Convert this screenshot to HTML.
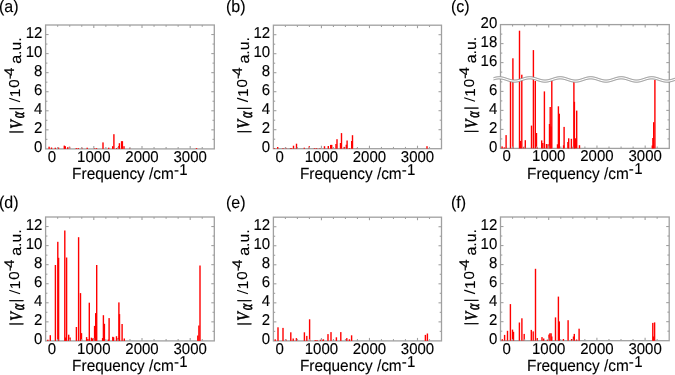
<!DOCTYPE html>
<html><head><meta charset="utf-8"><style>
html,body{margin:0;padding:0;background:#fff;overflow:hidden;}
svg{display:block;font-family:"Liberation Sans",sans-serif;filter:blur(0.35px);text-rendering:geometricPrecision;}
text{stroke:#000;stroke-width:0.12px;}
.s5{stroke-width:0.5px;}
.s35{stroke-width:0.35px;}
</style></head><body>
<svg width="675" height="375" viewBox="0 0 675 375">
<rect width="675" height="375" fill="#fff"/>
<rect x="45.60" y="25.00" width="168.70" height="123.90" fill="none" stroke="#a0a0a0" stroke-width="1.3"/>
<rect x="48.40" y="146.70" width="1.4" height="2.20" fill="#ff0000"/>
<rect x="50.80" y="147.50" width="1.4" height="1.40" fill="#ff0000"/>
<rect x="54.60" y="147.70" width="1.4" height="1.20" fill="#ff0000"/>
<rect x="57.80" y="147.50" width="1.4" height="1.40" fill="#ff0000"/>
<rect x="63.60" y="145.60" width="1.4" height="3.30" fill="#ff0000"/>
<rect x="64.60" y="146.20" width="1.4" height="2.70" fill="#ff0000"/>
<rect x="67.00" y="147.20" width="1.4" height="1.70" fill="#ff0000"/>
<rect x="68.80" y="146.70" width="1.4" height="2.20" fill="#ff0000"/>
<rect x="75.60" y="148.10" width="1.4" height="0.80" fill="#ff0000"/>
<rect x="77.60" y="148.10" width="1.4" height="0.80" fill="#ff0000"/>
<rect x="81.10" y="147.70" width="1.4" height="1.20" fill="#ff0000"/>
<rect x="86.50" y="147.70" width="1.4" height="1.20" fill="#ff0000"/>
<rect x="93.80" y="148.20" width="1.4" height="0.70" fill="#ff0000"/>
<rect x="95.80" y="148.10" width="1.4" height="0.80" fill="#ff0000"/>
<rect x="102.30" y="142.40" width="1.4" height="6.50" fill="#ff0000"/>
<rect x="108.00" y="147.70" width="1.4" height="1.20" fill="#ff0000"/>
<rect x="112.00" y="146.20" width="1.4" height="2.70" fill="#ff0000"/>
<rect x="113.20" y="134.20" width="1.4" height="14.70" fill="#ff0000"/>
<rect x="116.00" y="148.00" width="1.4" height="0.90" fill="#ff0000"/>
<rect x="118.00" y="146.20" width="1.4" height="2.70" fill="#ff0000"/>
<rect x="118.70" y="143.20" width="1.4" height="5.70" fill="#ff0000"/>
<rect x="120.90" y="141.20" width="1.4" height="7.70" fill="#ff0000"/>
<rect x="121.70" y="141.20" width="1.4" height="7.70" fill="#ff0000"/>
<rect x="123.30" y="146.20" width="1.4" height="2.70" fill="#ff0000"/>
<rect x="129.00" y="148.20" width="1.4" height="0.70" fill="#ff0000"/>
<rect x="195.80" y="148.10" width="1.4" height="0.80" fill="#ff0000"/>
<line x1="57.65" y1="148.90" x2="57.65" y2="147.10" stroke="#a0a0a0" stroke-width="1.1"/>
<line x1="57.65" y1="25.00" x2="57.65" y2="26.80" stroke="#a0a0a0" stroke-width="1.1"/>
<line x1="69.70" y1="148.90" x2="69.70" y2="147.10" stroke="#a0a0a0" stroke-width="1.1"/>
<line x1="69.70" y1="25.00" x2="69.70" y2="26.80" stroke="#a0a0a0" stroke-width="1.1"/>
<line x1="81.75" y1="148.90" x2="81.75" y2="147.10" stroke="#a0a0a0" stroke-width="1.1"/>
<line x1="81.75" y1="25.00" x2="81.75" y2="26.80" stroke="#a0a0a0" stroke-width="1.1"/>
<line x1="93.80" y1="148.90" x2="93.80" y2="145.90" stroke="#a0a0a0" stroke-width="1.1"/>
<line x1="93.80" y1="25.00" x2="93.80" y2="28.00" stroke="#a0a0a0" stroke-width="1.1"/>
<line x1="105.85" y1="148.90" x2="105.85" y2="147.10" stroke="#a0a0a0" stroke-width="1.1"/>
<line x1="105.85" y1="25.00" x2="105.85" y2="26.80" stroke="#a0a0a0" stroke-width="1.1"/>
<line x1="117.90" y1="148.90" x2="117.90" y2="147.10" stroke="#a0a0a0" stroke-width="1.1"/>
<line x1="117.90" y1="25.00" x2="117.90" y2="26.80" stroke="#a0a0a0" stroke-width="1.1"/>
<line x1="129.95" y1="148.90" x2="129.95" y2="147.10" stroke="#a0a0a0" stroke-width="1.1"/>
<line x1="129.95" y1="25.00" x2="129.95" y2="26.80" stroke="#a0a0a0" stroke-width="1.1"/>
<line x1="142.00" y1="148.90" x2="142.00" y2="145.90" stroke="#a0a0a0" stroke-width="1.1"/>
<line x1="142.00" y1="25.00" x2="142.00" y2="28.00" stroke="#a0a0a0" stroke-width="1.1"/>
<line x1="154.05" y1="148.90" x2="154.05" y2="147.10" stroke="#a0a0a0" stroke-width="1.1"/>
<line x1="154.05" y1="25.00" x2="154.05" y2="26.80" stroke="#a0a0a0" stroke-width="1.1"/>
<line x1="166.10" y1="148.90" x2="166.10" y2="147.10" stroke="#a0a0a0" stroke-width="1.1"/>
<line x1="166.10" y1="25.00" x2="166.10" y2="26.80" stroke="#a0a0a0" stroke-width="1.1"/>
<line x1="178.15" y1="148.90" x2="178.15" y2="147.10" stroke="#a0a0a0" stroke-width="1.1"/>
<line x1="178.15" y1="25.00" x2="178.15" y2="26.80" stroke="#a0a0a0" stroke-width="1.1"/>
<line x1="190.20" y1="148.90" x2="190.20" y2="145.90" stroke="#a0a0a0" stroke-width="1.1"/>
<line x1="190.20" y1="25.00" x2="190.20" y2="28.00" stroke="#a0a0a0" stroke-width="1.1"/>
<line x1="202.25" y1="148.90" x2="202.25" y2="147.10" stroke="#a0a0a0" stroke-width="1.1"/>
<line x1="202.25" y1="25.00" x2="202.25" y2="26.80" stroke="#a0a0a0" stroke-width="1.1"/>
<line x1="45.60" y1="139.37" x2="47.40" y2="139.37" stroke="#a0a0a0" stroke-width="1.1"/>
<line x1="214.30" y1="139.37" x2="212.50" y2="139.37" stroke="#a0a0a0" stroke-width="1.1"/>
<line x1="45.60" y1="129.84" x2="48.60" y2="129.84" stroke="#a0a0a0" stroke-width="1.1"/>
<line x1="214.30" y1="129.84" x2="211.30" y2="129.84" stroke="#a0a0a0" stroke-width="1.1"/>
<line x1="45.60" y1="120.31" x2="47.40" y2="120.31" stroke="#a0a0a0" stroke-width="1.1"/>
<line x1="214.30" y1="120.31" x2="212.50" y2="120.31" stroke="#a0a0a0" stroke-width="1.1"/>
<line x1="45.60" y1="110.78" x2="48.60" y2="110.78" stroke="#a0a0a0" stroke-width="1.1"/>
<line x1="214.30" y1="110.78" x2="211.30" y2="110.78" stroke="#a0a0a0" stroke-width="1.1"/>
<line x1="45.60" y1="101.25" x2="47.40" y2="101.25" stroke="#a0a0a0" stroke-width="1.1"/>
<line x1="214.30" y1="101.25" x2="212.50" y2="101.25" stroke="#a0a0a0" stroke-width="1.1"/>
<line x1="45.60" y1="91.72" x2="48.60" y2="91.72" stroke="#a0a0a0" stroke-width="1.1"/>
<line x1="214.30" y1="91.72" x2="211.30" y2="91.72" stroke="#a0a0a0" stroke-width="1.1"/>
<line x1="45.60" y1="82.18" x2="47.40" y2="82.18" stroke="#a0a0a0" stroke-width="1.1"/>
<line x1="214.30" y1="82.18" x2="212.50" y2="82.18" stroke="#a0a0a0" stroke-width="1.1"/>
<line x1="45.60" y1="72.65" x2="48.60" y2="72.65" stroke="#a0a0a0" stroke-width="1.1"/>
<line x1="214.30" y1="72.65" x2="211.30" y2="72.65" stroke="#a0a0a0" stroke-width="1.1"/>
<line x1="45.60" y1="63.12" x2="47.40" y2="63.12" stroke="#a0a0a0" stroke-width="1.1"/>
<line x1="214.30" y1="63.12" x2="212.50" y2="63.12" stroke="#a0a0a0" stroke-width="1.1"/>
<line x1="45.60" y1="53.59" x2="48.60" y2="53.59" stroke="#a0a0a0" stroke-width="1.1"/>
<line x1="214.30" y1="53.59" x2="211.30" y2="53.59" stroke="#a0a0a0" stroke-width="1.1"/>
<line x1="45.60" y1="44.06" x2="47.40" y2="44.06" stroke="#a0a0a0" stroke-width="1.1"/>
<line x1="214.30" y1="44.06" x2="212.50" y2="44.06" stroke="#a0a0a0" stroke-width="1.1"/>
<line x1="45.60" y1="34.53" x2="48.60" y2="34.53" stroke="#a0a0a0" stroke-width="1.1"/>
<line x1="214.30" y1="34.53" x2="211.30" y2="34.53" stroke="#a0a0a0" stroke-width="1.1"/>
<text transform="translate(42.40,152.00) scale(1,1.05)" font-size="15.0" text-anchor="end" >0</text>
<text transform="translate(42.40,132.94) scale(1,1.05)" font-size="15.0" text-anchor="end" >2</text>
<text transform="translate(42.40,113.88) scale(1,1.05)" font-size="15.0" text-anchor="end" >4</text>
<text transform="translate(42.40,94.82) scale(1,1.05)" font-size="15.0" text-anchor="end" >6</text>
<text transform="translate(42.40,75.75) scale(1,1.05)" font-size="15.0" text-anchor="end" >8</text>
<text transform="translate(42.40,56.69) scale(1,1.05)" font-size="15.0" text-anchor="end" >10</text>
<text transform="translate(42.40,37.63) scale(1,1.05)" font-size="15.0" text-anchor="end" >12</text>
<text transform="translate(93.80,161.90) scale(1,1.05)" font-size="15.0" text-anchor="middle" >1000</text>
<text transform="translate(142.00,161.90) scale(1,1.05)" font-size="15.0" text-anchor="middle" >2000</text>
<text transform="translate(190.20,161.90) scale(1,1.05)" font-size="15.0" text-anchor="middle" >3000</text>
<text transform="translate(51.80,161.90) scale(1,1.05)" font-size="15.0" text-anchor="middle" >0</text>
<text transform="translate(72.10,179.20) scale(1,1.05)" font-size="15.4" text-anchor="start" >Frequency /cm<tspan dy="-4.1" font-size="15">-<tspan dx="0.4">1</tspan></tspan></text>
<text transform="translate(-1.00,12.00) scale(1,1.05)" font-size="16" text-anchor="start" >(a)</text>
<text transform="translate(20.30,133.40) scale(1,1.05) rotate(-90)" font-size="15" font-family="Liberation Serif" class="s5">|</text>
<text transform="translate(21.67,128.63) scale(1,1.05) rotate(-90) scale(0.887,1.16)" font-size="15" font-family="Liberation Serif" font-style="italic" class="s5">V</text>
<text transform="translate(23.74,118.27) scale(1,1.05) rotate(-90) scale(0.783,1.22)" font-size="15" font-family="Liberation Serif" font-style="italic" class="s5">α</text>
<text transform="translate(20.30,110.30) scale(1,1.05) rotate(-90)" font-size="15" font-family="Liberation Serif" class="s5">|</text>
<line x1="9.30" y1="98.30" x2="20.10" y2="101.80" stroke="#000" stroke-width="1.15"/>
<text transform="translate(19.80,97.30) scale(1,1.05) rotate(-90)" font-size="14.4" font-family="Liberation Sans">1</text>
<text transform="translate(19.40,87.70) scale(1,1.05) rotate(-90)" font-size="14.4" font-family="Liberation Sans">0</text>
<text transform="translate(13.80,79.30) scale(1,1.05) rotate(-90)" font-size="14" font-family="Liberation Sans">-</text>
<text transform="translate(13.80,75.66) scale(1,1.05) rotate(-90)" font-size="14" font-family="Liberation Sans">4</text>
<text transform="translate(20.80,63.80) scale(1,1.05) rotate(-90)" font-size="15.2" font-family="Liberation Sans">a.u.</text>
<rect x="273.40" y="25.20" width="168.10" height="123.50" fill="none" stroke="#a0a0a0" stroke-width="1.3"/>
<rect x="273.60" y="148.10" width="1.4" height="0.60" fill="#ff0000"/>
<rect x="277.00" y="147.00" width="1.4" height="1.70" fill="#ff0000"/>
<rect x="282.30" y="148.10" width="1.4" height="0.60" fill="#ff0000"/>
<rect x="285.00" y="147.70" width="1.4" height="1.00" fill="#ff0000"/>
<rect x="289.80" y="148.10" width="1.4" height="0.60" fill="#ff0000"/>
<rect x="290.80" y="148.10" width="1.4" height="0.60" fill="#ff0000"/>
<rect x="292.80" y="145.70" width="1.4" height="3.00" fill="#ff0000"/>
<rect x="295.80" y="143.70" width="1.4" height="5.00" fill="#ff0000"/>
<rect x="296.60" y="147.20" width="1.4" height="1.50" fill="#ff0000"/>
<rect x="303.60" y="147.70" width="1.4" height="1.00" fill="#ff0000"/>
<rect x="308.60" y="146.20" width="1.4" height="2.50" fill="#ff0000"/>
<rect x="313.80" y="148.10" width="1.4" height="0.60" fill="#ff0000"/>
<rect x="315.80" y="148.10" width="1.4" height="0.60" fill="#ff0000"/>
<rect x="319.30" y="148.20" width="1.4" height="0.50" fill="#ff0000"/>
<rect x="323.80" y="146.20" width="1.4" height="2.50" fill="#ff0000"/>
<rect x="327.60" y="146.00" width="1.4" height="2.70" fill="#ff0000"/>
<rect x="330.00" y="144.90" width="1.4" height="3.80" fill="#ff0000"/>
<rect x="331.00" y="144.90" width="1.4" height="3.80" fill="#ff0000"/>
<rect x="335.30" y="144.00" width="1.4" height="4.70" fill="#ff0000"/>
<rect x="336.30" y="139.20" width="1.4" height="9.50" fill="#ff0000"/>
<rect x="339.80" y="143.00" width="1.4" height="5.70" fill="#ff0000"/>
<rect x="340.80" y="133.10" width="1.4" height="15.60" fill="#ff0000"/>
<rect x="343.50" y="146.90" width="1.4" height="1.80" fill="#ff0000"/>
<rect x="345.60" y="144.70" width="1.4" height="4.00" fill="#ff0000"/>
<rect x="346.40" y="140.50" width="1.4" height="8.20" fill="#ff0000"/>
<rect x="348.80" y="148.10" width="1.4" height="0.60" fill="#ff0000"/>
<rect x="351.00" y="141.00" width="1.4" height="7.70" fill="#ff0000"/>
<rect x="351.80" y="135.20" width="1.4" height="13.50" fill="#ff0000"/>
<rect x="356.60" y="148.20" width="1.4" height="0.50" fill="#ff0000"/>
<rect x="426.30" y="146.20" width="1.4" height="2.50" fill="#ff0000"/>
<line x1="285.41" y1="148.70" x2="285.41" y2="146.90" stroke="#a0a0a0" stroke-width="1.1"/>
<line x1="285.41" y1="25.20" x2="285.41" y2="27.00" stroke="#a0a0a0" stroke-width="1.1"/>
<line x1="297.41" y1="148.70" x2="297.41" y2="146.90" stroke="#a0a0a0" stroke-width="1.1"/>
<line x1="297.41" y1="25.20" x2="297.41" y2="27.00" stroke="#a0a0a0" stroke-width="1.1"/>
<line x1="309.42" y1="148.70" x2="309.42" y2="146.90" stroke="#a0a0a0" stroke-width="1.1"/>
<line x1="309.42" y1="25.20" x2="309.42" y2="27.00" stroke="#a0a0a0" stroke-width="1.1"/>
<line x1="321.43" y1="148.70" x2="321.43" y2="145.70" stroke="#a0a0a0" stroke-width="1.1"/>
<line x1="321.43" y1="25.20" x2="321.43" y2="28.20" stroke="#a0a0a0" stroke-width="1.1"/>
<line x1="333.44" y1="148.70" x2="333.44" y2="146.90" stroke="#a0a0a0" stroke-width="1.1"/>
<line x1="333.44" y1="25.20" x2="333.44" y2="27.00" stroke="#a0a0a0" stroke-width="1.1"/>
<line x1="345.44" y1="148.70" x2="345.44" y2="146.90" stroke="#a0a0a0" stroke-width="1.1"/>
<line x1="345.44" y1="25.20" x2="345.44" y2="27.00" stroke="#a0a0a0" stroke-width="1.1"/>
<line x1="357.45" y1="148.70" x2="357.45" y2="146.90" stroke="#a0a0a0" stroke-width="1.1"/>
<line x1="357.45" y1="25.20" x2="357.45" y2="27.00" stroke="#a0a0a0" stroke-width="1.1"/>
<line x1="369.46" y1="148.70" x2="369.46" y2="145.70" stroke="#a0a0a0" stroke-width="1.1"/>
<line x1="369.46" y1="25.20" x2="369.46" y2="28.20" stroke="#a0a0a0" stroke-width="1.1"/>
<line x1="381.46" y1="148.70" x2="381.46" y2="146.90" stroke="#a0a0a0" stroke-width="1.1"/>
<line x1="381.46" y1="25.20" x2="381.46" y2="27.00" stroke="#a0a0a0" stroke-width="1.1"/>
<line x1="393.47" y1="148.70" x2="393.47" y2="146.90" stroke="#a0a0a0" stroke-width="1.1"/>
<line x1="393.47" y1="25.20" x2="393.47" y2="27.00" stroke="#a0a0a0" stroke-width="1.1"/>
<line x1="405.48" y1="148.70" x2="405.48" y2="146.90" stroke="#a0a0a0" stroke-width="1.1"/>
<line x1="405.48" y1="25.20" x2="405.48" y2="27.00" stroke="#a0a0a0" stroke-width="1.1"/>
<line x1="417.49" y1="148.70" x2="417.49" y2="145.70" stroke="#a0a0a0" stroke-width="1.1"/>
<line x1="417.49" y1="25.20" x2="417.49" y2="28.20" stroke="#a0a0a0" stroke-width="1.1"/>
<line x1="429.49" y1="148.70" x2="429.49" y2="146.90" stroke="#a0a0a0" stroke-width="1.1"/>
<line x1="429.49" y1="25.20" x2="429.49" y2="27.00" stroke="#a0a0a0" stroke-width="1.1"/>
<line x1="273.40" y1="139.20" x2="275.20" y2="139.20" stroke="#a0a0a0" stroke-width="1.1"/>
<line x1="441.50" y1="139.20" x2="439.70" y2="139.20" stroke="#a0a0a0" stroke-width="1.1"/>
<line x1="273.40" y1="129.70" x2="276.40" y2="129.70" stroke="#a0a0a0" stroke-width="1.1"/>
<line x1="441.50" y1="129.70" x2="438.50" y2="129.70" stroke="#a0a0a0" stroke-width="1.1"/>
<line x1="273.40" y1="120.20" x2="275.20" y2="120.20" stroke="#a0a0a0" stroke-width="1.1"/>
<line x1="441.50" y1="120.20" x2="439.70" y2="120.20" stroke="#a0a0a0" stroke-width="1.1"/>
<line x1="273.40" y1="110.70" x2="276.40" y2="110.70" stroke="#a0a0a0" stroke-width="1.1"/>
<line x1="441.50" y1="110.70" x2="438.50" y2="110.70" stroke="#a0a0a0" stroke-width="1.1"/>
<line x1="273.40" y1="101.20" x2="275.20" y2="101.20" stroke="#a0a0a0" stroke-width="1.1"/>
<line x1="441.50" y1="101.20" x2="439.70" y2="101.20" stroke="#a0a0a0" stroke-width="1.1"/>
<line x1="273.40" y1="91.70" x2="276.40" y2="91.70" stroke="#a0a0a0" stroke-width="1.1"/>
<line x1="441.50" y1="91.70" x2="438.50" y2="91.70" stroke="#a0a0a0" stroke-width="1.1"/>
<line x1="273.40" y1="82.20" x2="275.20" y2="82.20" stroke="#a0a0a0" stroke-width="1.1"/>
<line x1="441.50" y1="82.20" x2="439.70" y2="82.20" stroke="#a0a0a0" stroke-width="1.1"/>
<line x1="273.40" y1="72.70" x2="276.40" y2="72.70" stroke="#a0a0a0" stroke-width="1.1"/>
<line x1="441.50" y1="72.70" x2="438.50" y2="72.70" stroke="#a0a0a0" stroke-width="1.1"/>
<line x1="273.40" y1="63.20" x2="275.20" y2="63.20" stroke="#a0a0a0" stroke-width="1.1"/>
<line x1="441.50" y1="63.20" x2="439.70" y2="63.20" stroke="#a0a0a0" stroke-width="1.1"/>
<line x1="273.40" y1="53.70" x2="276.40" y2="53.70" stroke="#a0a0a0" stroke-width="1.1"/>
<line x1="441.50" y1="53.70" x2="438.50" y2="53.70" stroke="#a0a0a0" stroke-width="1.1"/>
<line x1="273.40" y1="44.20" x2="275.20" y2="44.20" stroke="#a0a0a0" stroke-width="1.1"/>
<line x1="441.50" y1="44.20" x2="439.70" y2="44.20" stroke="#a0a0a0" stroke-width="1.1"/>
<line x1="273.40" y1="34.70" x2="276.40" y2="34.70" stroke="#a0a0a0" stroke-width="1.1"/>
<line x1="441.50" y1="34.70" x2="438.50" y2="34.70" stroke="#a0a0a0" stroke-width="1.1"/>
<text transform="translate(270.20,151.80) scale(1,1.05)" font-size="15.0" text-anchor="end" >0</text>
<text transform="translate(270.20,132.80) scale(1,1.05)" font-size="15.0" text-anchor="end" >2</text>
<text transform="translate(270.20,113.80) scale(1,1.05)" font-size="15.0" text-anchor="end" >4</text>
<text transform="translate(270.20,94.80) scale(1,1.05)" font-size="15.0" text-anchor="end" >6</text>
<text transform="translate(270.20,75.80) scale(1,1.05)" font-size="15.0" text-anchor="end" >8</text>
<text transform="translate(270.20,56.80) scale(1,1.05)" font-size="15.0" text-anchor="end" >10</text>
<text transform="translate(270.20,37.80) scale(1,1.05)" font-size="15.0" text-anchor="end" >12</text>
<text transform="translate(321.43,161.70) scale(1,1.05)" font-size="15.0" text-anchor="middle" >1000</text>
<text transform="translate(369.46,161.70) scale(1,1.05)" font-size="15.0" text-anchor="middle" >2000</text>
<text transform="translate(417.49,161.70) scale(1,1.05)" font-size="15.0" text-anchor="middle" >3000</text>
<text transform="translate(279.60,161.70) scale(1,1.05)" font-size="15.0" text-anchor="middle" >0</text>
<text transform="translate(299.90,179.00) scale(1,1.05)" font-size="15.4" text-anchor="start" >Frequency /cm<tspan dy="-4.1" font-size="15">-<tspan dx="0.4">1</tspan></tspan></text>
<text transform="translate(226.00,12.00) scale(1,1.05)" font-size="16" text-anchor="start" >(b)</text>
<text transform="translate(248.10,133.20) scale(1,1.05) rotate(-90)" font-size="15" font-family="Liberation Serif" class="s5">|</text>
<text transform="translate(249.47,128.43) scale(1,1.05) rotate(-90) scale(0.887,1.16)" font-size="15" font-family="Liberation Serif" font-style="italic" class="s5">V</text>
<text transform="translate(251.54,118.07) scale(1,1.05) rotate(-90) scale(0.783,1.22)" font-size="15" font-family="Liberation Serif" font-style="italic" class="s5">α</text>
<text transform="translate(248.10,110.10) scale(1,1.05) rotate(-90)" font-size="15" font-family="Liberation Serif" class="s5">|</text>
<line x1="237.10" y1="98.10" x2="247.90" y2="101.60" stroke="#000" stroke-width="1.15"/>
<text transform="translate(247.60,97.10) scale(1,1.05) rotate(-90)" font-size="14.4" font-family="Liberation Sans">1</text>
<text transform="translate(247.20,87.50) scale(1,1.05) rotate(-90)" font-size="14.4" font-family="Liberation Sans">0</text>
<text transform="translate(241.60,79.10) scale(1,1.05) rotate(-90)" font-size="14" font-family="Liberation Sans">-</text>
<text transform="translate(241.60,75.46) scale(1,1.05) rotate(-90)" font-size="14" font-family="Liberation Sans">4</text>
<text transform="translate(248.60,63.60) scale(1,1.05) rotate(-90)" font-size="15.2" font-family="Liberation Sans">a.u.</text>
<rect x="500.50" y="24.60" width="168.80" height="123.80" fill="none" stroke="#a0a0a0" stroke-width="1.3"/>
<rect x="501.40" y="146.40" width="1.4" height="2.00" fill="#ff0000"/>
<rect x="503.60" y="147.40" width="1.4" height="1.00" fill="#ff0000"/>
<rect x="505.40" y="135.10" width="1.4" height="13.30" fill="#ff0000"/>
<rect x="509.80" y="81.00" width="1.4" height="67.40" fill="#ff0000"/>
<rect x="512.20" y="58.30" width="1.4" height="90.10" fill="#ff0000"/>
<rect x="518.80" y="30.70" width="1.4" height="117.70" fill="#ff0000"/>
<rect x="519.80" y="140.90" width="1.4" height="7.50" fill="#ff0000"/>
<rect x="521.10" y="74.70" width="1.4" height="73.70" fill="#ff0000"/>
<rect x="523.30" y="146.80" width="1.4" height="1.60" fill="#ff0000"/>
<rect x="524.60" y="140.20" width="1.4" height="8.20" fill="#ff0000"/>
<rect x="530.80" y="125.60" width="1.4" height="22.80" fill="#ff0000"/>
<rect x="532.70" y="50.10" width="1.4" height="98.30" fill="#ff0000"/>
<rect x="534.60" y="81.00" width="1.4" height="67.40" fill="#ff0000"/>
<rect x="535.80" y="133.00" width="1.4" height="15.40" fill="#ff0000"/>
<rect x="536.60" y="147.50" width="1.4" height="0.90" fill="#ff0000"/>
<rect x="541.00" y="140.40" width="1.4" height="8.00" fill="#ff0000"/>
<rect x="542.10" y="143.00" width="1.4" height="5.40" fill="#ff0000"/>
<rect x="543.70" y="91.40" width="1.4" height="57.00" fill="#ff0000"/>
<rect x="545.80" y="144.00" width="1.4" height="4.40" fill="#ff0000"/>
<rect x="547.40" y="144.30" width="1.4" height="4.10" fill="#ff0000"/>
<rect x="548.80" y="124.00" width="1.4" height="24.40" fill="#ff0000"/>
<rect x="549.50" y="107.00" width="1.4" height="41.40" fill="#ff0000"/>
<rect x="550.30" y="126.50" width="1.4" height="21.90" fill="#ff0000"/>
<rect x="551.10" y="81.00" width="1.4" height="67.40" fill="#ff0000"/>
<rect x="556.80" y="144.30" width="1.4" height="4.10" fill="#ff0000"/>
<rect x="557.70" y="106.30" width="1.4" height="42.10" fill="#ff0000"/>
<rect x="558.60" y="113.70" width="1.4" height="34.70" fill="#ff0000"/>
<rect x="562.90" y="145.30" width="1.4" height="3.10" fill="#ff0000"/>
<rect x="563.40" y="126.90" width="1.4" height="21.50" fill="#ff0000"/>
<rect x="567.20" y="142.00" width="1.4" height="6.40" fill="#ff0000"/>
<rect x="568.00" y="138.30" width="1.4" height="10.10" fill="#ff0000"/>
<rect x="570.70" y="138.80" width="1.4" height="9.60" fill="#ff0000"/>
<rect x="571.40" y="147.30" width="1.4" height="1.10" fill="#ff0000"/>
<rect x="573.20" y="81.00" width="1.4" height="67.40" fill="#ff0000"/>
<rect x="573.70" y="101.80" width="1.4" height="46.60" fill="#ff0000"/>
<rect x="574.60" y="138.30" width="1.4" height="10.10" fill="#ff0000"/>
<rect x="576.00" y="110.60" width="1.4" height="37.80" fill="#ff0000"/>
<rect x="578.80" y="145.20" width="1.4" height="3.20" fill="#ff0000"/>
<rect x="651.60" y="145.50" width="1.4" height="2.90" fill="#ff0000"/>
<rect x="652.20" y="138.00" width="1.4" height="10.40" fill="#ff0000"/>
<rect x="653.00" y="122.20" width="1.4" height="26.20" fill="#ff0000"/>
<rect x="654.20" y="80.00" width="1.4" height="68.40" fill="#ff0000"/>
<line x1="512.56" y1="148.40" x2="512.56" y2="146.60" stroke="#a0a0a0" stroke-width="1.1"/>
<line x1="512.56" y1="24.60" x2="512.56" y2="26.40" stroke="#a0a0a0" stroke-width="1.1"/>
<line x1="524.61" y1="148.40" x2="524.61" y2="146.60" stroke="#a0a0a0" stroke-width="1.1"/>
<line x1="524.61" y1="24.60" x2="524.61" y2="26.40" stroke="#a0a0a0" stroke-width="1.1"/>
<line x1="536.67" y1="148.40" x2="536.67" y2="146.60" stroke="#a0a0a0" stroke-width="1.1"/>
<line x1="536.67" y1="24.60" x2="536.67" y2="26.40" stroke="#a0a0a0" stroke-width="1.1"/>
<line x1="548.73" y1="148.40" x2="548.73" y2="145.40" stroke="#a0a0a0" stroke-width="1.1"/>
<line x1="548.73" y1="24.60" x2="548.73" y2="27.60" stroke="#a0a0a0" stroke-width="1.1"/>
<line x1="560.79" y1="148.40" x2="560.79" y2="146.60" stroke="#a0a0a0" stroke-width="1.1"/>
<line x1="560.79" y1="24.60" x2="560.79" y2="26.40" stroke="#a0a0a0" stroke-width="1.1"/>
<line x1="572.84" y1="148.40" x2="572.84" y2="146.60" stroke="#a0a0a0" stroke-width="1.1"/>
<line x1="572.84" y1="24.60" x2="572.84" y2="26.40" stroke="#a0a0a0" stroke-width="1.1"/>
<line x1="584.90" y1="148.40" x2="584.90" y2="146.60" stroke="#a0a0a0" stroke-width="1.1"/>
<line x1="584.90" y1="24.60" x2="584.90" y2="26.40" stroke="#a0a0a0" stroke-width="1.1"/>
<line x1="596.96" y1="148.40" x2="596.96" y2="145.40" stroke="#a0a0a0" stroke-width="1.1"/>
<line x1="596.96" y1="24.60" x2="596.96" y2="27.60" stroke="#a0a0a0" stroke-width="1.1"/>
<line x1="609.01" y1="148.40" x2="609.01" y2="146.60" stroke="#a0a0a0" stroke-width="1.1"/>
<line x1="609.01" y1="24.60" x2="609.01" y2="26.40" stroke="#a0a0a0" stroke-width="1.1"/>
<line x1="621.07" y1="148.40" x2="621.07" y2="146.60" stroke="#a0a0a0" stroke-width="1.1"/>
<line x1="621.07" y1="24.60" x2="621.07" y2="26.40" stroke="#a0a0a0" stroke-width="1.1"/>
<line x1="633.13" y1="148.40" x2="633.13" y2="146.60" stroke="#a0a0a0" stroke-width="1.1"/>
<line x1="633.13" y1="24.60" x2="633.13" y2="26.40" stroke="#a0a0a0" stroke-width="1.1"/>
<line x1="645.19" y1="148.40" x2="645.19" y2="145.40" stroke="#a0a0a0" stroke-width="1.1"/>
<line x1="645.19" y1="24.60" x2="645.19" y2="27.60" stroke="#a0a0a0" stroke-width="1.1"/>
<line x1="657.24" y1="148.40" x2="657.24" y2="146.60" stroke="#a0a0a0" stroke-width="1.1"/>
<line x1="657.24" y1="24.60" x2="657.24" y2="26.40" stroke="#a0a0a0" stroke-width="1.1"/>
<line x1="500.50" y1="138.90" x2="502.30" y2="138.90" stroke="#a0a0a0" stroke-width="1.1"/>
<line x1="669.30" y1="138.90" x2="667.50" y2="138.90" stroke="#a0a0a0" stroke-width="1.1"/>
<line x1="500.50" y1="129.40" x2="503.50" y2="129.40" stroke="#a0a0a0" stroke-width="1.1"/>
<line x1="669.30" y1="129.40" x2="666.30" y2="129.40" stroke="#a0a0a0" stroke-width="1.1"/>
<line x1="500.50" y1="119.90" x2="502.30" y2="119.90" stroke="#a0a0a0" stroke-width="1.1"/>
<line x1="669.30" y1="119.90" x2="667.50" y2="119.90" stroke="#a0a0a0" stroke-width="1.1"/>
<line x1="500.50" y1="110.40" x2="503.50" y2="110.40" stroke="#a0a0a0" stroke-width="1.1"/>
<line x1="669.30" y1="110.40" x2="666.30" y2="110.40" stroke="#a0a0a0" stroke-width="1.1"/>
<line x1="500.50" y1="100.90" x2="502.30" y2="100.90" stroke="#a0a0a0" stroke-width="1.1"/>
<line x1="669.30" y1="100.90" x2="667.50" y2="100.90" stroke="#a0a0a0" stroke-width="1.1"/>
<line x1="500.50" y1="91.40" x2="503.50" y2="91.40" stroke="#a0a0a0" stroke-width="1.1"/>
<line x1="669.30" y1="91.40" x2="666.30" y2="91.40" stroke="#a0a0a0" stroke-width="1.1"/>
<line x1="500.50" y1="81.90" x2="502.30" y2="81.90" stroke="#a0a0a0" stroke-width="1.1"/>
<line x1="669.30" y1="81.90" x2="667.50" y2="81.90" stroke="#a0a0a0" stroke-width="1.1"/>
<text transform="translate(497.30,151.50) scale(1,1.05)" font-size="15.0" text-anchor="end" >0</text>
<text transform="translate(497.30,132.50) scale(1,1.05)" font-size="15.0" text-anchor="end" >2</text>
<text transform="translate(497.30,113.50) scale(1,1.05)" font-size="15.0" text-anchor="end" >4</text>
<text transform="translate(497.30,94.50) scale(1,1.05)" font-size="15.0" text-anchor="end" >6</text>
<line x1="500.50" y1="72.10" x2="502.30" y2="72.10" stroke="#a0a0a0" stroke-width="1.1"/>
<line x1="669.30" y1="72.10" x2="667.50" y2="72.10" stroke="#a0a0a0" stroke-width="1.1"/>
<line x1="500.50" y1="62.60" x2="503.50" y2="62.60" stroke="#a0a0a0" stroke-width="1.1"/>
<line x1="669.30" y1="62.60" x2="666.30" y2="62.60" stroke="#a0a0a0" stroke-width="1.1"/>
<line x1="500.50" y1="53.10" x2="502.30" y2="53.10" stroke="#a0a0a0" stroke-width="1.1"/>
<line x1="669.30" y1="53.10" x2="667.50" y2="53.10" stroke="#a0a0a0" stroke-width="1.1"/>
<line x1="500.50" y1="43.60" x2="503.50" y2="43.60" stroke="#a0a0a0" stroke-width="1.1"/>
<line x1="669.30" y1="43.60" x2="666.30" y2="43.60" stroke="#a0a0a0" stroke-width="1.1"/>
<line x1="500.50" y1="34.10" x2="502.30" y2="34.10" stroke="#a0a0a0" stroke-width="1.1"/>
<line x1="669.30" y1="34.10" x2="667.50" y2="34.10" stroke="#a0a0a0" stroke-width="1.1"/>
<text transform="translate(497.30,65.70) scale(1,1.05)" font-size="15.0" text-anchor="end" >16</text>
<text transform="translate(497.30,46.70) scale(1,1.05)" font-size="15.0" text-anchor="end" >18</text>
<text transform="translate(497.30,27.70) scale(1,1.05)" font-size="15.0" text-anchor="end" >20</text>
<text transform="translate(548.73,161.40) scale(1,1.05)" font-size="15.0" text-anchor="middle" >1000</text>
<text transform="translate(596.96,161.40) scale(1,1.05)" font-size="15.0" text-anchor="middle" >2000</text>
<text transform="translate(645.19,161.40) scale(1,1.05)" font-size="15.0" text-anchor="middle" >3000</text>
<text transform="translate(506.70,161.40) scale(1,1.05)" font-size="15.0" text-anchor="middle" >0</text>
<text transform="translate(527.00,178.70) scale(1,1.05)" font-size="15.4" text-anchor="start" >Frequency /cm<tspan dy="-4.1" font-size="15">-<tspan dx="0.4">1</tspan></tspan></text>
<text transform="translate(451.00,12.00) scale(1,1.05)" font-size="16" text-anchor="start" >(c)</text>
<text transform="translate(475.20,132.90) scale(1,1.05) rotate(-90)" font-size="15" font-family="Liberation Serif" class="s5">|</text>
<text transform="translate(476.57,128.13) scale(1,1.05) rotate(-90) scale(0.887,1.16)" font-size="15" font-family="Liberation Serif" font-style="italic" class="s5">V</text>
<text transform="translate(478.64,117.77) scale(1,1.05) rotate(-90) scale(0.783,1.22)" font-size="15" font-family="Liberation Serif" font-style="italic" class="s5">α</text>
<text transform="translate(475.20,109.80) scale(1,1.05) rotate(-90)" font-size="15" font-family="Liberation Serif" class="s5">|</text>
<line x1="464.20" y1="97.80" x2="475.00" y2="101.30" stroke="#000" stroke-width="1.15"/>
<text transform="translate(474.70,96.80) scale(1,1.05) rotate(-90)" font-size="14.4" font-family="Liberation Sans">1</text>
<text transform="translate(474.30,87.20) scale(1,1.05) rotate(-90)" font-size="14.4" font-family="Liberation Sans">0</text>
<text transform="translate(468.70,78.80) scale(1,1.05) rotate(-90)" font-size="14" font-family="Liberation Sans">-</text>
<text transform="translate(468.70,75.16) scale(1,1.05) rotate(-90)" font-size="14" font-family="Liberation Sans">4</text>
<text transform="translate(475.70,63.30) scale(1,1.05) rotate(-90)" font-size="15.2" font-family="Liberation Sans">a.u.</text>
<rect x="45.60" y="217.00" width="168.70" height="123.90" fill="none" stroke="#a0a0a0" stroke-width="1.3"/>
<rect x="47.10" y="339.70" width="1.4" height="1.20" fill="#ff0000"/>
<rect x="49.60" y="335.20" width="1.4" height="5.70" fill="#ff0000"/>
<rect x="54.70" y="265.00" width="1.4" height="75.90" fill="#ff0000"/>
<rect x="57.10" y="241.80" width="1.4" height="99.10" fill="#ff0000"/>
<rect x="57.90" y="257.80" width="1.4" height="83.10" fill="#ff0000"/>
<rect x="64.10" y="230.50" width="1.4" height="110.40" fill="#ff0000"/>
<rect x="64.80" y="337.50" width="1.4" height="3.40" fill="#ff0000"/>
<rect x="65.90" y="257.50" width="1.4" height="83.40" fill="#ff0000"/>
<rect x="68.00" y="334.70" width="1.4" height="6.20" fill="#ff0000"/>
<rect x="69.40" y="337.50" width="1.4" height="3.40" fill="#ff0000"/>
<rect x="75.70" y="327.00" width="1.4" height="13.90" fill="#ff0000"/>
<rect x="77.90" y="237.20" width="1.4" height="103.70" fill="#ff0000"/>
<rect x="79.80" y="293.10" width="1.4" height="47.80" fill="#ff0000"/>
<rect x="80.80" y="333.10" width="1.4" height="7.80" fill="#ff0000"/>
<rect x="85.90" y="337.10" width="1.4" height="3.80" fill="#ff0000"/>
<rect x="87.20" y="339.00" width="1.4" height="1.90" fill="#ff0000"/>
<rect x="88.60" y="302.70" width="1.4" height="38.20" fill="#ff0000"/>
<rect x="90.70" y="337.70" width="1.4" height="3.20" fill="#ff0000"/>
<rect x="91.80" y="338.50" width="1.4" height="2.40" fill="#ff0000"/>
<rect x="92.80" y="338.10" width="1.4" height="2.80" fill="#ff0000"/>
<rect x="93.90" y="325.90" width="1.4" height="15.00" fill="#ff0000"/>
<rect x="95.00" y="313.10" width="1.4" height="27.80" fill="#ff0000"/>
<rect x="96.00" y="265.00" width="1.4" height="75.90" fill="#ff0000"/>
<rect x="101.90" y="338.10" width="1.4" height="2.80" fill="#ff0000"/>
<rect x="102.70" y="315.20" width="1.4" height="25.70" fill="#ff0000"/>
<rect x="103.70" y="323.80" width="1.4" height="17.10" fill="#ff0000"/>
<rect x="107.60" y="339.50" width="1.4" height="1.40" fill="#ff0000"/>
<rect x="108.40" y="318.10" width="1.4" height="22.80" fill="#ff0000"/>
<rect x="112.10" y="336.80" width="1.4" height="4.10" fill="#ff0000"/>
<rect x="112.90" y="337.30" width="1.4" height="3.60" fill="#ff0000"/>
<rect x="115.80" y="336.20" width="1.4" height="4.70" fill="#ff0000"/>
<rect x="117.40" y="338.10" width="1.4" height="2.80" fill="#ff0000"/>
<rect x="118.20" y="302.40" width="1.4" height="38.50" fill="#ff0000"/>
<rect x="118.80" y="314.10" width="1.4" height="26.80" fill="#ff0000"/>
<rect x="121.40" y="324.00" width="1.4" height="16.90" fill="#ff0000"/>
<rect x="123.60" y="338.50" width="1.4" height="2.40" fill="#ff0000"/>
<rect x="197.10" y="335.50" width="1.4" height="5.40" fill="#ff0000"/>
<rect x="198.20" y="325.50" width="1.4" height="15.40" fill="#ff0000"/>
<rect x="199.30" y="265.50" width="1.4" height="75.40" fill="#ff0000"/>
<line x1="57.65" y1="340.90" x2="57.65" y2="339.10" stroke="#a0a0a0" stroke-width="1.1"/>
<line x1="57.65" y1="217.00" x2="57.65" y2="218.80" stroke="#a0a0a0" stroke-width="1.1"/>
<line x1="69.70" y1="340.90" x2="69.70" y2="339.10" stroke="#a0a0a0" stroke-width="1.1"/>
<line x1="69.70" y1="217.00" x2="69.70" y2="218.80" stroke="#a0a0a0" stroke-width="1.1"/>
<line x1="81.75" y1="340.90" x2="81.75" y2="339.10" stroke="#a0a0a0" stroke-width="1.1"/>
<line x1="81.75" y1="217.00" x2="81.75" y2="218.80" stroke="#a0a0a0" stroke-width="1.1"/>
<line x1="93.80" y1="340.90" x2="93.80" y2="337.90" stroke="#a0a0a0" stroke-width="1.1"/>
<line x1="93.80" y1="217.00" x2="93.80" y2="220.00" stroke="#a0a0a0" stroke-width="1.1"/>
<line x1="105.85" y1="340.90" x2="105.85" y2="339.10" stroke="#a0a0a0" stroke-width="1.1"/>
<line x1="105.85" y1="217.00" x2="105.85" y2="218.80" stroke="#a0a0a0" stroke-width="1.1"/>
<line x1="117.90" y1="340.90" x2="117.90" y2="339.10" stroke="#a0a0a0" stroke-width="1.1"/>
<line x1="117.90" y1="217.00" x2="117.90" y2="218.80" stroke="#a0a0a0" stroke-width="1.1"/>
<line x1="129.95" y1="340.90" x2="129.95" y2="339.10" stroke="#a0a0a0" stroke-width="1.1"/>
<line x1="129.95" y1="217.00" x2="129.95" y2="218.80" stroke="#a0a0a0" stroke-width="1.1"/>
<line x1="142.00" y1="340.90" x2="142.00" y2="337.90" stroke="#a0a0a0" stroke-width="1.1"/>
<line x1="142.00" y1="217.00" x2="142.00" y2="220.00" stroke="#a0a0a0" stroke-width="1.1"/>
<line x1="154.05" y1="340.90" x2="154.05" y2="339.10" stroke="#a0a0a0" stroke-width="1.1"/>
<line x1="154.05" y1="217.00" x2="154.05" y2="218.80" stroke="#a0a0a0" stroke-width="1.1"/>
<line x1="166.10" y1="340.90" x2="166.10" y2="339.10" stroke="#a0a0a0" stroke-width="1.1"/>
<line x1="166.10" y1="217.00" x2="166.10" y2="218.80" stroke="#a0a0a0" stroke-width="1.1"/>
<line x1="178.15" y1="340.90" x2="178.15" y2="339.10" stroke="#a0a0a0" stroke-width="1.1"/>
<line x1="178.15" y1="217.00" x2="178.15" y2="218.80" stroke="#a0a0a0" stroke-width="1.1"/>
<line x1="190.20" y1="340.90" x2="190.20" y2="337.90" stroke="#a0a0a0" stroke-width="1.1"/>
<line x1="190.20" y1="217.00" x2="190.20" y2="220.00" stroke="#a0a0a0" stroke-width="1.1"/>
<line x1="202.25" y1="340.90" x2="202.25" y2="339.10" stroke="#a0a0a0" stroke-width="1.1"/>
<line x1="202.25" y1="217.00" x2="202.25" y2="218.80" stroke="#a0a0a0" stroke-width="1.1"/>
<line x1="45.60" y1="331.37" x2="47.40" y2="331.37" stroke="#a0a0a0" stroke-width="1.1"/>
<line x1="214.30" y1="331.37" x2="212.50" y2="331.37" stroke="#a0a0a0" stroke-width="1.1"/>
<line x1="45.60" y1="321.84" x2="48.60" y2="321.84" stroke="#a0a0a0" stroke-width="1.1"/>
<line x1="214.30" y1="321.84" x2="211.30" y2="321.84" stroke="#a0a0a0" stroke-width="1.1"/>
<line x1="45.60" y1="312.31" x2="47.40" y2="312.31" stroke="#a0a0a0" stroke-width="1.1"/>
<line x1="214.30" y1="312.31" x2="212.50" y2="312.31" stroke="#a0a0a0" stroke-width="1.1"/>
<line x1="45.60" y1="302.78" x2="48.60" y2="302.78" stroke="#a0a0a0" stroke-width="1.1"/>
<line x1="214.30" y1="302.78" x2="211.30" y2="302.78" stroke="#a0a0a0" stroke-width="1.1"/>
<line x1="45.60" y1="293.25" x2="47.40" y2="293.25" stroke="#a0a0a0" stroke-width="1.1"/>
<line x1="214.30" y1="293.25" x2="212.50" y2="293.25" stroke="#a0a0a0" stroke-width="1.1"/>
<line x1="45.60" y1="283.72" x2="48.60" y2="283.72" stroke="#a0a0a0" stroke-width="1.1"/>
<line x1="214.30" y1="283.72" x2="211.30" y2="283.72" stroke="#a0a0a0" stroke-width="1.1"/>
<line x1="45.60" y1="274.18" x2="47.40" y2="274.18" stroke="#a0a0a0" stroke-width="1.1"/>
<line x1="214.30" y1="274.18" x2="212.50" y2="274.18" stroke="#a0a0a0" stroke-width="1.1"/>
<line x1="45.60" y1="264.65" x2="48.60" y2="264.65" stroke="#a0a0a0" stroke-width="1.1"/>
<line x1="214.30" y1="264.65" x2="211.30" y2="264.65" stroke="#a0a0a0" stroke-width="1.1"/>
<line x1="45.60" y1="255.12" x2="47.40" y2="255.12" stroke="#a0a0a0" stroke-width="1.1"/>
<line x1="214.30" y1="255.12" x2="212.50" y2="255.12" stroke="#a0a0a0" stroke-width="1.1"/>
<line x1="45.60" y1="245.59" x2="48.60" y2="245.59" stroke="#a0a0a0" stroke-width="1.1"/>
<line x1="214.30" y1="245.59" x2="211.30" y2="245.59" stroke="#a0a0a0" stroke-width="1.1"/>
<line x1="45.60" y1="236.06" x2="47.40" y2="236.06" stroke="#a0a0a0" stroke-width="1.1"/>
<line x1="214.30" y1="236.06" x2="212.50" y2="236.06" stroke="#a0a0a0" stroke-width="1.1"/>
<line x1="45.60" y1="226.53" x2="48.60" y2="226.53" stroke="#a0a0a0" stroke-width="1.1"/>
<line x1="214.30" y1="226.53" x2="211.30" y2="226.53" stroke="#a0a0a0" stroke-width="1.1"/>
<text transform="translate(42.40,344.00) scale(1,1.05)" font-size="15.0" text-anchor="end" >0</text>
<text transform="translate(42.40,324.94) scale(1,1.05)" font-size="15.0" text-anchor="end" >2</text>
<text transform="translate(42.40,305.88) scale(1,1.05)" font-size="15.0" text-anchor="end" >4</text>
<text transform="translate(42.40,286.82) scale(1,1.05)" font-size="15.0" text-anchor="end" >6</text>
<text transform="translate(42.40,267.75) scale(1,1.05)" font-size="15.0" text-anchor="end" >8</text>
<text transform="translate(42.40,248.69) scale(1,1.05)" font-size="15.0" text-anchor="end" >10</text>
<text transform="translate(42.40,229.63) scale(1,1.05)" font-size="15.0" text-anchor="end" >12</text>
<text transform="translate(93.80,353.90) scale(1,1.05)" font-size="15.0" text-anchor="middle" >1000</text>
<text transform="translate(142.00,353.90) scale(1,1.05)" font-size="15.0" text-anchor="middle" >2000</text>
<text transform="translate(190.20,353.90) scale(1,1.05)" font-size="15.0" text-anchor="middle" >3000</text>
<text transform="translate(51.80,353.90) scale(1,1.05)" font-size="15.0" text-anchor="middle" >0</text>
<text transform="translate(72.10,371.20) scale(1,1.05)" font-size="15.4" text-anchor="start" >Frequency /cm<tspan dy="-4.1" font-size="15">-<tspan dx="0.4">1</tspan></tspan></text>
<text transform="translate(-1.00,208.00) scale(1,1.05)" font-size="16" text-anchor="start" >(d)</text>
<text transform="translate(20.30,325.40) scale(1,1.05) rotate(-90)" font-size="15" font-family="Liberation Serif" class="s5">|</text>
<text transform="translate(21.67,320.63) scale(1,1.05) rotate(-90) scale(0.887,1.16)" font-size="15" font-family="Liberation Serif" font-style="italic" class="s5">V</text>
<text transform="translate(23.74,310.27) scale(1,1.05) rotate(-90) scale(0.783,1.22)" font-size="15" font-family="Liberation Serif" font-style="italic" class="s5">α</text>
<text transform="translate(20.30,302.30) scale(1,1.05) rotate(-90)" font-size="15" font-family="Liberation Serif" class="s5">|</text>
<line x1="9.30" y1="290.30" x2="20.10" y2="293.80" stroke="#000" stroke-width="1.15"/>
<text transform="translate(19.80,289.30) scale(1,1.05) rotate(-90)" font-size="14.4" font-family="Liberation Sans">1</text>
<text transform="translate(19.40,279.70) scale(1,1.05) rotate(-90)" font-size="14.4" font-family="Liberation Sans">0</text>
<text transform="translate(13.80,271.30) scale(1,1.05) rotate(-90)" font-size="14" font-family="Liberation Sans">-</text>
<text transform="translate(13.80,267.66) scale(1,1.05) rotate(-90)" font-size="14" font-family="Liberation Sans">4</text>
<text transform="translate(20.80,255.80) scale(1,1.05) rotate(-90)" font-size="15.2" font-family="Liberation Sans">a.u.</text>
<rect x="273.40" y="217.20" width="168.10" height="123.70" fill="none" stroke="#a0a0a0" stroke-width="1.3"/>
<rect x="274.50" y="339.30" width="1.4" height="1.60" fill="#ff0000"/>
<rect x="277.30" y="327.30" width="1.4" height="13.60" fill="#ff0000"/>
<rect x="282.30" y="327.90" width="1.4" height="13.00" fill="#ff0000"/>
<rect x="285.10" y="339.30" width="1.4" height="1.60" fill="#ff0000"/>
<rect x="290.10" y="332.30" width="1.4" height="8.60" fill="#ff0000"/>
<rect x="292.50" y="338.50" width="1.4" height="2.40" fill="#ff0000"/>
<rect x="295.70" y="338.10" width="1.4" height="2.80" fill="#ff0000"/>
<rect x="296.70" y="339.70" width="1.4" height="1.20" fill="#ff0000"/>
<rect x="303.70" y="332.30" width="1.4" height="8.60" fill="#ff0000"/>
<rect x="306.10" y="335.90" width="1.4" height="5.00" fill="#ff0000"/>
<rect x="308.90" y="319.30" width="1.4" height="21.60" fill="#ff0000"/>
<rect x="314.50" y="340.10" width="1.4" height="0.80" fill="#ff0000"/>
<rect x="316.30" y="340.10" width="1.4" height="0.80" fill="#ff0000"/>
<rect x="319.80" y="339.70" width="1.4" height="1.20" fill="#ff0000"/>
<rect x="321.30" y="339.70" width="1.4" height="1.20" fill="#ff0000"/>
<rect x="322.70" y="339.30" width="1.4" height="1.60" fill="#ff0000"/>
<rect x="327.30" y="334.10" width="1.4" height="6.80" fill="#ff0000"/>
<rect x="330.30" y="332.10" width="1.4" height="8.80" fill="#ff0000"/>
<rect x="335.70" y="337.30" width="1.4" height="3.60" fill="#ff0000"/>
<rect x="340.10" y="332.10" width="1.4" height="8.80" fill="#ff0000"/>
<rect x="346.10" y="338.10" width="1.4" height="2.80" fill="#ff0000"/>
<rect x="348.70" y="339.30" width="1.4" height="1.60" fill="#ff0000"/>
<rect x="350.90" y="335.30" width="1.4" height="5.60" fill="#ff0000"/>
<rect x="424.70" y="334.90" width="1.4" height="6.00" fill="#ff0000"/>
<rect x="426.70" y="333.50" width="1.4" height="7.40" fill="#ff0000"/>
<line x1="285.41" y1="340.90" x2="285.41" y2="339.10" stroke="#a0a0a0" stroke-width="1.1"/>
<line x1="285.41" y1="217.20" x2="285.41" y2="219.00" stroke="#a0a0a0" stroke-width="1.1"/>
<line x1="297.41" y1="340.90" x2="297.41" y2="339.10" stroke="#a0a0a0" stroke-width="1.1"/>
<line x1="297.41" y1="217.20" x2="297.41" y2="219.00" stroke="#a0a0a0" stroke-width="1.1"/>
<line x1="309.42" y1="340.90" x2="309.42" y2="339.10" stroke="#a0a0a0" stroke-width="1.1"/>
<line x1="309.42" y1="217.20" x2="309.42" y2="219.00" stroke="#a0a0a0" stroke-width="1.1"/>
<line x1="321.43" y1="340.90" x2="321.43" y2="337.90" stroke="#a0a0a0" stroke-width="1.1"/>
<line x1="321.43" y1="217.20" x2="321.43" y2="220.20" stroke="#a0a0a0" stroke-width="1.1"/>
<line x1="333.44" y1="340.90" x2="333.44" y2="339.10" stroke="#a0a0a0" stroke-width="1.1"/>
<line x1="333.44" y1="217.20" x2="333.44" y2="219.00" stroke="#a0a0a0" stroke-width="1.1"/>
<line x1="345.44" y1="340.90" x2="345.44" y2="339.10" stroke="#a0a0a0" stroke-width="1.1"/>
<line x1="345.44" y1="217.20" x2="345.44" y2="219.00" stroke="#a0a0a0" stroke-width="1.1"/>
<line x1="357.45" y1="340.90" x2="357.45" y2="339.10" stroke="#a0a0a0" stroke-width="1.1"/>
<line x1="357.45" y1="217.20" x2="357.45" y2="219.00" stroke="#a0a0a0" stroke-width="1.1"/>
<line x1="369.46" y1="340.90" x2="369.46" y2="337.90" stroke="#a0a0a0" stroke-width="1.1"/>
<line x1="369.46" y1="217.20" x2="369.46" y2="220.20" stroke="#a0a0a0" stroke-width="1.1"/>
<line x1="381.46" y1="340.90" x2="381.46" y2="339.10" stroke="#a0a0a0" stroke-width="1.1"/>
<line x1="381.46" y1="217.20" x2="381.46" y2="219.00" stroke="#a0a0a0" stroke-width="1.1"/>
<line x1="393.47" y1="340.90" x2="393.47" y2="339.10" stroke="#a0a0a0" stroke-width="1.1"/>
<line x1="393.47" y1="217.20" x2="393.47" y2="219.00" stroke="#a0a0a0" stroke-width="1.1"/>
<line x1="405.48" y1="340.90" x2="405.48" y2="339.10" stroke="#a0a0a0" stroke-width="1.1"/>
<line x1="405.48" y1="217.20" x2="405.48" y2="219.00" stroke="#a0a0a0" stroke-width="1.1"/>
<line x1="417.49" y1="340.90" x2="417.49" y2="337.90" stroke="#a0a0a0" stroke-width="1.1"/>
<line x1="417.49" y1="217.20" x2="417.49" y2="220.20" stroke="#a0a0a0" stroke-width="1.1"/>
<line x1="429.49" y1="340.90" x2="429.49" y2="339.10" stroke="#a0a0a0" stroke-width="1.1"/>
<line x1="429.49" y1="217.20" x2="429.49" y2="219.00" stroke="#a0a0a0" stroke-width="1.1"/>
<line x1="273.40" y1="331.38" x2="275.20" y2="331.38" stroke="#a0a0a0" stroke-width="1.1"/>
<line x1="441.50" y1="331.38" x2="439.70" y2="331.38" stroke="#a0a0a0" stroke-width="1.1"/>
<line x1="273.40" y1="321.87" x2="276.40" y2="321.87" stroke="#a0a0a0" stroke-width="1.1"/>
<line x1="441.50" y1="321.87" x2="438.50" y2="321.87" stroke="#a0a0a0" stroke-width="1.1"/>
<line x1="273.40" y1="312.35" x2="275.20" y2="312.35" stroke="#a0a0a0" stroke-width="1.1"/>
<line x1="441.50" y1="312.35" x2="439.70" y2="312.35" stroke="#a0a0a0" stroke-width="1.1"/>
<line x1="273.40" y1="302.84" x2="276.40" y2="302.84" stroke="#a0a0a0" stroke-width="1.1"/>
<line x1="441.50" y1="302.84" x2="438.50" y2="302.84" stroke="#a0a0a0" stroke-width="1.1"/>
<line x1="273.40" y1="293.32" x2="275.20" y2="293.32" stroke="#a0a0a0" stroke-width="1.1"/>
<line x1="441.50" y1="293.32" x2="439.70" y2="293.32" stroke="#a0a0a0" stroke-width="1.1"/>
<line x1="273.40" y1="283.81" x2="276.40" y2="283.81" stroke="#a0a0a0" stroke-width="1.1"/>
<line x1="441.50" y1="283.81" x2="438.50" y2="283.81" stroke="#a0a0a0" stroke-width="1.1"/>
<line x1="273.40" y1="274.29" x2="275.20" y2="274.29" stroke="#a0a0a0" stroke-width="1.1"/>
<line x1="441.50" y1="274.29" x2="439.70" y2="274.29" stroke="#a0a0a0" stroke-width="1.1"/>
<line x1="273.40" y1="264.78" x2="276.40" y2="264.78" stroke="#a0a0a0" stroke-width="1.1"/>
<line x1="441.50" y1="264.78" x2="438.50" y2="264.78" stroke="#a0a0a0" stroke-width="1.1"/>
<line x1="273.40" y1="255.26" x2="275.20" y2="255.26" stroke="#a0a0a0" stroke-width="1.1"/>
<line x1="441.50" y1="255.26" x2="439.70" y2="255.26" stroke="#a0a0a0" stroke-width="1.1"/>
<line x1="273.40" y1="245.75" x2="276.40" y2="245.75" stroke="#a0a0a0" stroke-width="1.1"/>
<line x1="441.50" y1="245.75" x2="438.50" y2="245.75" stroke="#a0a0a0" stroke-width="1.1"/>
<line x1="273.40" y1="236.23" x2="275.20" y2="236.23" stroke="#a0a0a0" stroke-width="1.1"/>
<line x1="441.50" y1="236.23" x2="439.70" y2="236.23" stroke="#a0a0a0" stroke-width="1.1"/>
<line x1="273.40" y1="226.72" x2="276.40" y2="226.72" stroke="#a0a0a0" stroke-width="1.1"/>
<line x1="441.50" y1="226.72" x2="438.50" y2="226.72" stroke="#a0a0a0" stroke-width="1.1"/>
<text transform="translate(270.20,344.00) scale(1,1.05)" font-size="15.0" text-anchor="end" >0</text>
<text transform="translate(270.20,324.97) scale(1,1.05)" font-size="15.0" text-anchor="end" >2</text>
<text transform="translate(270.20,305.94) scale(1,1.05)" font-size="15.0" text-anchor="end" >4</text>
<text transform="translate(270.20,286.91) scale(1,1.05)" font-size="15.0" text-anchor="end" >6</text>
<text transform="translate(270.20,267.88) scale(1,1.05)" font-size="15.0" text-anchor="end" >8</text>
<text transform="translate(270.20,248.85) scale(1,1.05)" font-size="15.0" text-anchor="end" >10</text>
<text transform="translate(270.20,229.82) scale(1,1.05)" font-size="15.0" text-anchor="end" >12</text>
<text transform="translate(321.43,353.90) scale(1,1.05)" font-size="15.0" text-anchor="middle" >1000</text>
<text transform="translate(369.46,353.90) scale(1,1.05)" font-size="15.0" text-anchor="middle" >2000</text>
<text transform="translate(417.49,353.90) scale(1,1.05)" font-size="15.0" text-anchor="middle" >3000</text>
<text transform="translate(279.60,353.90) scale(1,1.05)" font-size="15.0" text-anchor="middle" >0</text>
<text transform="translate(299.90,371.20) scale(1,1.05)" font-size="15.4" text-anchor="start" >Frequency /cm<tspan dy="-4.1" font-size="15">-<tspan dx="0.4">1</tspan></tspan></text>
<text transform="translate(226.00,208.00) scale(1,1.05)" font-size="16" text-anchor="start" >(e)</text>
<text transform="translate(248.10,325.40) scale(1,1.05) rotate(-90)" font-size="15" font-family="Liberation Serif" class="s5">|</text>
<text transform="translate(249.47,320.63) scale(1,1.05) rotate(-90) scale(0.887,1.16)" font-size="15" font-family="Liberation Serif" font-style="italic" class="s5">V</text>
<text transform="translate(251.54,310.27) scale(1,1.05) rotate(-90) scale(0.783,1.22)" font-size="15" font-family="Liberation Serif" font-style="italic" class="s5">α</text>
<text transform="translate(248.10,302.30) scale(1,1.05) rotate(-90)" font-size="15" font-family="Liberation Serif" class="s5">|</text>
<line x1="237.10" y1="290.30" x2="247.90" y2="293.80" stroke="#000" stroke-width="1.15"/>
<text transform="translate(247.60,289.30) scale(1,1.05) rotate(-90)" font-size="14.4" font-family="Liberation Sans">1</text>
<text transform="translate(247.20,279.70) scale(1,1.05) rotate(-90)" font-size="14.4" font-family="Liberation Sans">0</text>
<text transform="translate(241.60,271.30) scale(1,1.05) rotate(-90)" font-size="14" font-family="Liberation Sans">-</text>
<text transform="translate(241.60,267.66) scale(1,1.05) rotate(-90)" font-size="14" font-family="Liberation Sans">4</text>
<text transform="translate(248.60,255.80) scale(1,1.05) rotate(-90)" font-size="15.2" font-family="Liberation Sans">a.u.</text>
<rect x="500.50" y="217.00" width="168.70" height="123.70" fill="none" stroke="#a0a0a0" stroke-width="1.3"/>
<rect x="501.60" y="339.20" width="1.4" height="1.50" fill="#ff0000"/>
<rect x="503.90" y="334.90" width="1.4" height="5.80" fill="#ff0000"/>
<rect x="506.80" y="330.80" width="1.4" height="9.90" fill="#ff0000"/>
<rect x="509.70" y="304.10" width="1.4" height="36.60" fill="#ff0000"/>
<rect x="511.80" y="329.60" width="1.4" height="11.10" fill="#ff0000"/>
<rect x="512.80" y="331.80" width="1.4" height="8.90" fill="#ff0000"/>
<rect x="518.70" y="322.50" width="1.4" height="18.20" fill="#ff0000"/>
<rect x="521.20" y="318.30" width="1.4" height="22.40" fill="#ff0000"/>
<rect x="523.50" y="333.90" width="1.4" height="6.80" fill="#ff0000"/>
<rect x="530.60" y="329.90" width="1.4" height="10.80" fill="#ff0000"/>
<rect x="532.50" y="331.40" width="1.4" height="9.30" fill="#ff0000"/>
<rect x="534.80" y="268.80" width="1.4" height="71.90" fill="#ff0000"/>
<rect x="536.60" y="338.10" width="1.4" height="2.60" fill="#ff0000"/>
<rect x="541.30" y="337.10" width="1.4" height="3.60" fill="#ff0000"/>
<rect x="543.00" y="338.50" width="1.4" height="2.20" fill="#ff0000"/>
<rect x="546.70" y="339.60" width="1.4" height="1.10" fill="#ff0000"/>
<rect x="548.30" y="334.60" width="1.4" height="6.10" fill="#ff0000"/>
<rect x="549.20" y="333.30" width="1.4" height="7.40" fill="#ff0000"/>
<rect x="550.40" y="333.30" width="1.4" height="7.40" fill="#ff0000"/>
<rect x="551.10" y="336.50" width="1.4" height="4.20" fill="#ff0000"/>
<rect x="554.80" y="317.40" width="1.4" height="23.30" fill="#ff0000"/>
<rect x="557.70" y="296.60" width="1.4" height="44.10" fill="#ff0000"/>
<rect x="558.60" y="321.40" width="1.4" height="19.30" fill="#ff0000"/>
<rect x="562.70" y="339.00" width="1.4" height="1.70" fill="#ff0000"/>
<rect x="567.40" y="320.20" width="1.4" height="20.50" fill="#ff0000"/>
<rect x="570.90" y="339.00" width="1.4" height="1.70" fill="#ff0000"/>
<rect x="572.80" y="336.50" width="1.4" height="4.20" fill="#ff0000"/>
<rect x="573.60" y="333.90" width="1.4" height="6.80" fill="#ff0000"/>
<rect x="575.90" y="339.50" width="1.4" height="1.20" fill="#ff0000"/>
<rect x="578.40" y="328.70" width="1.4" height="12.00" fill="#ff0000"/>
<rect x="652.10" y="322.90" width="1.4" height="17.80" fill="#ff0000"/>
<rect x="652.80" y="336.50" width="1.4" height="4.20" fill="#ff0000"/>
<rect x="653.90" y="322.40" width="1.4" height="18.30" fill="#ff0000"/>
<line x1="512.55" y1="340.70" x2="512.55" y2="338.90" stroke="#a0a0a0" stroke-width="1.1"/>
<line x1="512.55" y1="217.00" x2="512.55" y2="218.80" stroke="#a0a0a0" stroke-width="1.1"/>
<line x1="524.60" y1="340.70" x2="524.60" y2="338.90" stroke="#a0a0a0" stroke-width="1.1"/>
<line x1="524.60" y1="217.00" x2="524.60" y2="218.80" stroke="#a0a0a0" stroke-width="1.1"/>
<line x1="536.65" y1="340.70" x2="536.65" y2="338.90" stroke="#a0a0a0" stroke-width="1.1"/>
<line x1="536.65" y1="217.00" x2="536.65" y2="218.80" stroke="#a0a0a0" stroke-width="1.1"/>
<line x1="548.70" y1="340.70" x2="548.70" y2="337.70" stroke="#a0a0a0" stroke-width="1.1"/>
<line x1="548.70" y1="217.00" x2="548.70" y2="220.00" stroke="#a0a0a0" stroke-width="1.1"/>
<line x1="560.75" y1="340.70" x2="560.75" y2="338.90" stroke="#a0a0a0" stroke-width="1.1"/>
<line x1="560.75" y1="217.00" x2="560.75" y2="218.80" stroke="#a0a0a0" stroke-width="1.1"/>
<line x1="572.80" y1="340.70" x2="572.80" y2="338.90" stroke="#a0a0a0" stroke-width="1.1"/>
<line x1="572.80" y1="217.00" x2="572.80" y2="218.80" stroke="#a0a0a0" stroke-width="1.1"/>
<line x1="584.85" y1="340.70" x2="584.85" y2="338.90" stroke="#a0a0a0" stroke-width="1.1"/>
<line x1="584.85" y1="217.00" x2="584.85" y2="218.80" stroke="#a0a0a0" stroke-width="1.1"/>
<line x1="596.90" y1="340.70" x2="596.90" y2="337.70" stroke="#a0a0a0" stroke-width="1.1"/>
<line x1="596.90" y1="217.00" x2="596.90" y2="220.00" stroke="#a0a0a0" stroke-width="1.1"/>
<line x1="608.95" y1="340.70" x2="608.95" y2="338.90" stroke="#a0a0a0" stroke-width="1.1"/>
<line x1="608.95" y1="217.00" x2="608.95" y2="218.80" stroke="#a0a0a0" stroke-width="1.1"/>
<line x1="621.00" y1="340.70" x2="621.00" y2="338.90" stroke="#a0a0a0" stroke-width="1.1"/>
<line x1="621.00" y1="217.00" x2="621.00" y2="218.80" stroke="#a0a0a0" stroke-width="1.1"/>
<line x1="633.05" y1="340.70" x2="633.05" y2="338.90" stroke="#a0a0a0" stroke-width="1.1"/>
<line x1="633.05" y1="217.00" x2="633.05" y2="218.80" stroke="#a0a0a0" stroke-width="1.1"/>
<line x1="645.10" y1="340.70" x2="645.10" y2="337.70" stroke="#a0a0a0" stroke-width="1.1"/>
<line x1="645.10" y1="217.00" x2="645.10" y2="220.00" stroke="#a0a0a0" stroke-width="1.1"/>
<line x1="657.15" y1="340.70" x2="657.15" y2="338.90" stroke="#a0a0a0" stroke-width="1.1"/>
<line x1="657.15" y1="217.00" x2="657.15" y2="218.80" stroke="#a0a0a0" stroke-width="1.1"/>
<line x1="500.50" y1="331.18" x2="502.30" y2="331.18" stroke="#a0a0a0" stroke-width="1.1"/>
<line x1="669.20" y1="331.18" x2="667.40" y2="331.18" stroke="#a0a0a0" stroke-width="1.1"/>
<line x1="500.50" y1="321.67" x2="503.50" y2="321.67" stroke="#a0a0a0" stroke-width="1.1"/>
<line x1="669.20" y1="321.67" x2="666.20" y2="321.67" stroke="#a0a0a0" stroke-width="1.1"/>
<line x1="500.50" y1="312.15" x2="502.30" y2="312.15" stroke="#a0a0a0" stroke-width="1.1"/>
<line x1="669.20" y1="312.15" x2="667.40" y2="312.15" stroke="#a0a0a0" stroke-width="1.1"/>
<line x1="500.50" y1="302.64" x2="503.50" y2="302.64" stroke="#a0a0a0" stroke-width="1.1"/>
<line x1="669.20" y1="302.64" x2="666.20" y2="302.64" stroke="#a0a0a0" stroke-width="1.1"/>
<line x1="500.50" y1="293.12" x2="502.30" y2="293.12" stroke="#a0a0a0" stroke-width="1.1"/>
<line x1="669.20" y1="293.12" x2="667.40" y2="293.12" stroke="#a0a0a0" stroke-width="1.1"/>
<line x1="500.50" y1="283.61" x2="503.50" y2="283.61" stroke="#a0a0a0" stroke-width="1.1"/>
<line x1="669.20" y1="283.61" x2="666.20" y2="283.61" stroke="#a0a0a0" stroke-width="1.1"/>
<line x1="500.50" y1="274.09" x2="502.30" y2="274.09" stroke="#a0a0a0" stroke-width="1.1"/>
<line x1="669.20" y1="274.09" x2="667.40" y2="274.09" stroke="#a0a0a0" stroke-width="1.1"/>
<line x1="500.50" y1="264.58" x2="503.50" y2="264.58" stroke="#a0a0a0" stroke-width="1.1"/>
<line x1="669.20" y1="264.58" x2="666.20" y2="264.58" stroke="#a0a0a0" stroke-width="1.1"/>
<line x1="500.50" y1="255.06" x2="502.30" y2="255.06" stroke="#a0a0a0" stroke-width="1.1"/>
<line x1="669.20" y1="255.06" x2="667.40" y2="255.06" stroke="#a0a0a0" stroke-width="1.1"/>
<line x1="500.50" y1="245.55" x2="503.50" y2="245.55" stroke="#a0a0a0" stroke-width="1.1"/>
<line x1="669.20" y1="245.55" x2="666.20" y2="245.55" stroke="#a0a0a0" stroke-width="1.1"/>
<line x1="500.50" y1="236.03" x2="502.30" y2="236.03" stroke="#a0a0a0" stroke-width="1.1"/>
<line x1="669.20" y1="236.03" x2="667.40" y2="236.03" stroke="#a0a0a0" stroke-width="1.1"/>
<line x1="500.50" y1="226.52" x2="503.50" y2="226.52" stroke="#a0a0a0" stroke-width="1.1"/>
<line x1="669.20" y1="226.52" x2="666.20" y2="226.52" stroke="#a0a0a0" stroke-width="1.1"/>
<text transform="translate(497.30,343.80) scale(1,1.05)" font-size="15.0" text-anchor="end" >0</text>
<text transform="translate(497.30,324.77) scale(1,1.05)" font-size="15.0" text-anchor="end" >2</text>
<text transform="translate(497.30,305.74) scale(1,1.05)" font-size="15.0" text-anchor="end" >4</text>
<text transform="translate(497.30,286.71) scale(1,1.05)" font-size="15.0" text-anchor="end" >6</text>
<text transform="translate(497.30,267.68) scale(1,1.05)" font-size="15.0" text-anchor="end" >8</text>
<text transform="translate(497.30,248.65) scale(1,1.05)" font-size="15.0" text-anchor="end" >10</text>
<text transform="translate(497.30,229.62) scale(1,1.05)" font-size="15.0" text-anchor="end" >12</text>
<text transform="translate(548.70,353.70) scale(1,1.05)" font-size="15.0" text-anchor="middle" >1000</text>
<text transform="translate(596.90,353.70) scale(1,1.05)" font-size="15.0" text-anchor="middle" >2000</text>
<text transform="translate(645.10,353.70) scale(1,1.05)" font-size="15.0" text-anchor="middle" >3000</text>
<text transform="translate(506.70,353.70) scale(1,1.05)" font-size="15.0" text-anchor="middle" >0</text>
<text transform="translate(527.00,371.00) scale(1,1.05)" font-size="15.4" text-anchor="start" >Frequency /cm<tspan dy="-4.1" font-size="15">-<tspan dx="0.4">1</tspan></tspan></text>
<text transform="translate(451.00,208.00) scale(1,1.05)" font-size="16" text-anchor="start" >(f)</text>
<text transform="translate(475.20,325.20) scale(1,1.05) rotate(-90)" font-size="15" font-family="Liberation Serif" class="s5">|</text>
<text transform="translate(476.57,320.43) scale(1,1.05) rotate(-90) scale(0.887,1.16)" font-size="15" font-family="Liberation Serif" font-style="italic" class="s5">V</text>
<text transform="translate(478.64,310.07) scale(1,1.05) rotate(-90) scale(0.783,1.22)" font-size="15" font-family="Liberation Serif" font-style="italic" class="s5">α</text>
<text transform="translate(475.20,302.10) scale(1,1.05) rotate(-90)" font-size="15" font-family="Liberation Serif" class="s5">|</text>
<line x1="464.20" y1="290.10" x2="475.00" y2="293.60" stroke="#000" stroke-width="1.15"/>
<text transform="translate(474.70,289.10) scale(1,1.05) rotate(-90)" font-size="14.4" font-family="Liberation Sans">1</text>
<text transform="translate(474.30,279.50) scale(1,1.05) rotate(-90)" font-size="14.4" font-family="Liberation Sans">0</text>
<text transform="translate(468.70,271.10) scale(1,1.05) rotate(-90)" font-size="14" font-family="Liberation Sans">-</text>
<text transform="translate(468.70,267.46) scale(1,1.05) rotate(-90)" font-size="14" font-family="Liberation Sans">4</text>
<text transform="translate(475.70,255.60) scale(1,1.05) rotate(-90)" font-size="15.2" font-family="Liberation Sans">a.u.</text>
<polygon points="493.50,77.71 494.00,77.56 494.50,77.41 495.00,77.28 495.50,77.16 496.00,77.05 496.50,76.95 497.00,76.87 497.50,76.80 498.00,76.75 498.50,76.72 499.00,76.70 499.50,76.70 500.00,76.72 500.50,76.76 501.00,76.81 501.50,76.88 502.00,76.97 502.50,77.07 503.00,77.18 503.50,77.31 504.00,77.44 504.50,77.59 505.00,77.74 505.50,77.91 506.00,78.07 506.50,78.24 507.00,78.41 507.50,78.58 508.00,78.75 508.50,78.91 509.00,79.06 509.50,79.21 510.00,79.35 510.50,79.48 511.00,79.60 511.50,79.70 512.00,79.79 512.50,79.87 513.00,79.93 513.50,79.97 514.00,79.99 514.50,80.00 515.00,79.99 515.50,79.96 516.00,79.92 516.50,79.86 517.00,79.78 517.50,79.68 518.00,79.58 518.50,79.46 519.00,79.33 519.50,79.18 520.00,79.03 520.50,78.88 521.00,78.71 521.50,78.54 522.00,78.38 522.50,78.21 523.00,78.04 523.50,77.87 524.00,77.71 524.50,77.56 525.00,77.41 525.50,77.28 526.00,77.16 526.50,77.05 527.00,76.95 527.50,76.87 528.00,76.80 528.50,76.75 529.00,76.72 529.50,76.70 530.00,76.70 530.50,76.72 531.00,76.76 531.50,76.81 532.00,76.88 532.50,76.97 533.00,77.07 533.50,77.18 534.00,77.31 534.50,77.44 535.00,77.59 535.50,77.74 536.00,77.91 536.50,78.07 537.00,78.24 537.50,78.41 538.00,78.58 538.50,78.75 539.00,78.91 539.50,79.06 540.00,79.21 540.50,79.35 541.00,79.48 541.50,79.60 542.00,79.70 542.50,79.79 543.00,79.87 543.50,79.93 544.00,79.97 544.50,79.99 545.00,80.00 545.50,79.99 546.00,79.96 546.50,79.92 547.00,79.86 547.50,79.78 548.00,79.68 548.50,79.58 549.00,79.46 549.50,79.33 550.00,79.18 550.50,79.03 551.00,78.88 551.50,78.71 552.00,78.54 552.50,78.38 553.00,78.21 553.50,78.04 554.00,77.87 554.50,77.71 555.00,77.56 555.50,77.41 556.00,77.28 556.50,77.16 557.00,77.05 557.50,76.95 558.00,76.87 558.50,76.80 559.00,76.75 559.50,76.72 560.00,76.70 560.50,76.70 561.00,76.72 561.50,76.76 562.00,76.81 562.50,76.88 563.00,76.97 563.50,77.07 564.00,77.18 564.50,77.31 565.00,77.44 565.50,77.59 566.00,77.74 566.50,77.91 567.00,78.07 567.50,78.24 568.00,78.41 568.50,78.58 569.00,78.75 569.50,78.91 570.00,79.06 570.50,79.21 571.00,79.35 571.50,79.48 572.00,79.60 572.50,79.70 573.00,79.79 573.50,79.87 574.00,79.93 574.50,79.97 575.00,79.99 575.50,80.00 576.00,79.99 576.50,79.96 577.00,79.92 577.50,79.86 578.00,79.78 578.50,79.68 579.00,79.58 579.50,79.46 580.00,79.33 580.50,79.18 581.00,79.03 581.50,78.88 582.00,78.71 582.50,78.54 583.00,78.38 583.50,78.21 584.00,78.04 584.50,77.87 585.00,77.71 585.50,77.56 586.00,77.41 586.50,77.28 587.00,77.16 587.50,77.05 588.00,76.95 588.50,76.87 589.00,76.80 589.50,76.75 590.00,76.72 590.50,76.70 591.00,76.70 591.50,76.72 592.00,76.76 592.50,76.81 593.00,76.88 593.50,76.97 594.00,77.07 594.50,77.18 595.00,77.31 595.50,77.44 596.00,77.59 596.50,77.74 597.00,77.91 597.50,78.07 598.00,78.24 598.50,78.41 599.00,78.58 599.50,78.75 600.00,78.91 600.50,79.06 601.00,79.21 601.50,79.35 602.00,79.48 602.50,79.60 603.00,79.70 603.50,79.79 604.00,79.87 604.50,79.93 605.00,79.97 605.50,79.99 606.00,80.00 606.50,79.99 607.00,79.96 607.50,79.92 608.00,79.86 608.50,79.78 609.00,79.68 609.50,79.58 610.00,79.46 610.50,79.33 611.00,79.18 611.50,79.03 612.00,78.88 612.50,78.71 613.00,78.54 613.50,78.38 614.00,78.21 614.50,78.04 615.00,77.87 615.50,77.71 616.00,77.56 616.50,77.41 617.00,77.28 617.50,77.16 618.00,77.05 618.50,76.95 619.00,76.87 619.50,76.80 620.00,76.75 620.50,76.72 621.00,76.70 621.50,76.70 622.00,76.72 622.50,76.76 623.00,76.81 623.50,76.88 624.00,76.97 624.50,77.07 625.00,77.18 625.50,77.31 626.00,77.44 626.50,77.59 627.00,77.74 627.50,77.91 628.00,78.07 628.50,78.24 629.00,78.41 629.50,78.58 630.00,78.75 630.50,78.91 631.00,79.06 631.50,79.21 632.00,79.35 632.50,79.48 633.00,79.60 633.50,79.70 634.00,79.79 634.50,79.87 635.00,79.93 635.50,79.97 636.00,79.99 636.50,80.00 637.00,79.99 637.50,79.96 638.00,79.92 638.50,79.86 639.00,79.78 639.50,79.68 640.00,79.58 640.50,79.46 641.00,79.33 641.50,79.18 642.00,79.03 642.50,78.88 643.00,78.71 643.50,78.54 644.00,78.38 644.50,78.21 645.00,78.04 645.50,77.87 646.00,77.71 646.50,77.56 647.00,77.41 647.50,77.28 648.00,77.16 648.50,77.05 649.00,76.95 649.50,76.87 650.00,76.80 650.50,76.75 651.00,76.72 651.50,76.70 652.00,76.70 652.50,76.72 653.00,76.76 653.50,76.81 654.00,76.88 654.50,76.97 655.00,77.07 655.50,77.18 656.00,77.31 656.50,77.44 657.00,77.59 657.50,77.74 658.00,77.91 658.50,78.07 659.00,78.24 659.50,78.41 660.00,78.58 660.50,78.75 661.00,78.91 661.50,79.06 662.00,79.21 662.50,79.35 663.00,79.48 663.50,79.60 664.00,79.70 664.50,79.79 665.00,79.87 665.50,79.93 666.00,79.97 666.50,79.99 667.00,80.00 667.50,79.99 668.00,79.96 668.50,79.92 669.00,79.86 669.50,79.78 670.00,79.68 670.50,79.58 671.00,79.46 671.50,79.33 672.00,79.18 672.50,79.03 673.00,78.88 673.50,78.71 674.00,78.54 674.50,78.38 675.00,78.21 675.50,78.04 675.50,80.24 675.00,80.41 674.50,80.58 674.00,80.74 673.50,80.91 673.00,81.08 672.50,81.23 672.00,81.38 671.50,81.53 671.00,81.66 670.50,81.78 670.00,81.88 669.50,81.98 669.00,82.06 668.50,82.12 668.00,82.16 667.50,82.19 667.00,82.20 666.50,82.19 666.00,82.17 665.50,82.13 665.00,82.07 664.50,81.99 664.00,81.90 663.50,81.80 663.00,81.68 662.50,81.55 662.00,81.41 661.50,81.26 661.00,81.11 660.50,80.95 660.00,80.78 659.50,80.61 659.00,80.44 658.50,80.27 658.00,80.11 657.50,79.94 657.00,79.79 656.50,79.64 656.00,79.51 655.50,79.38 655.00,79.27 654.50,79.17 654.00,79.08 653.50,79.01 653.00,78.96 652.50,78.92 652.00,78.90 651.50,78.90 651.00,78.92 650.50,78.95 650.00,79.00 649.50,79.07 649.00,79.15 648.50,79.25 648.00,79.36 647.50,79.48 647.00,79.61 646.50,79.76 646.00,79.91 645.50,80.07 645.00,80.24 644.50,80.41 644.00,80.58 643.50,80.74 643.00,80.91 642.50,81.08 642.00,81.23 641.50,81.38 641.00,81.53 640.50,81.66 640.00,81.78 639.50,81.88 639.00,81.98 638.50,82.06 638.00,82.12 637.50,82.16 637.00,82.19 636.50,82.20 636.00,82.19 635.50,82.17 635.00,82.13 634.50,82.07 634.00,81.99 633.50,81.90 633.00,81.80 632.50,81.68 632.00,81.55 631.50,81.41 631.00,81.26 630.50,81.11 630.00,80.95 629.50,80.78 629.00,80.61 628.50,80.44 628.00,80.27 627.50,80.11 627.00,79.94 626.50,79.79 626.00,79.64 625.50,79.51 625.00,79.38 624.50,79.27 624.00,79.17 623.50,79.08 623.00,79.01 622.50,78.96 622.00,78.92 621.50,78.90 621.00,78.90 620.50,78.92 620.00,78.95 619.50,79.00 619.00,79.07 618.50,79.15 618.00,79.25 617.50,79.36 617.00,79.48 616.50,79.61 616.00,79.76 615.50,79.91 615.00,80.07 614.50,80.24 614.00,80.41 613.50,80.58 613.00,80.74 612.50,80.91 612.00,81.08 611.50,81.23 611.00,81.38 610.50,81.53 610.00,81.66 609.50,81.78 609.00,81.88 608.50,81.98 608.00,82.06 607.50,82.12 607.00,82.16 606.50,82.19 606.00,82.20 605.50,82.19 605.00,82.17 604.50,82.13 604.00,82.07 603.50,81.99 603.00,81.90 602.50,81.80 602.00,81.68 601.50,81.55 601.00,81.41 600.50,81.26 600.00,81.11 599.50,80.95 599.00,80.78 598.50,80.61 598.00,80.44 597.50,80.27 597.00,80.11 596.50,79.94 596.00,79.79 595.50,79.64 595.00,79.51 594.50,79.38 594.00,79.27 593.50,79.17 593.00,79.08 592.50,79.01 592.00,78.96 591.50,78.92 591.00,78.90 590.50,78.90 590.00,78.92 589.50,78.95 589.00,79.00 588.50,79.07 588.00,79.15 587.50,79.25 587.00,79.36 586.50,79.48 586.00,79.61 585.50,79.76 585.00,79.91 584.50,80.07 584.00,80.24 583.50,80.41 583.00,80.58 582.50,80.74 582.00,80.91 581.50,81.08 581.00,81.23 580.50,81.38 580.00,81.53 579.50,81.66 579.00,81.78 578.50,81.88 578.00,81.98 577.50,82.06 577.00,82.12 576.50,82.16 576.00,82.19 575.50,82.20 575.00,82.19 574.50,82.17 574.00,82.13 573.50,82.07 573.00,81.99 572.50,81.90 572.00,81.80 571.50,81.68 571.00,81.55 570.50,81.41 570.00,81.26 569.50,81.11 569.00,80.95 568.50,80.78 568.00,80.61 567.50,80.44 567.00,80.27 566.50,80.11 566.00,79.94 565.50,79.79 565.00,79.64 564.50,79.51 564.00,79.38 563.50,79.27 563.00,79.17 562.50,79.08 562.00,79.01 561.50,78.96 561.00,78.92 560.50,78.90 560.00,78.90 559.50,78.92 559.00,78.95 558.50,79.00 558.00,79.07 557.50,79.15 557.00,79.25 556.50,79.36 556.00,79.48 555.50,79.61 555.00,79.76 554.50,79.91 554.00,80.07 553.50,80.24 553.00,80.41 552.50,80.58 552.00,80.74 551.50,80.91 551.00,81.08 550.50,81.23 550.00,81.38 549.50,81.53 549.00,81.66 548.50,81.78 548.00,81.88 547.50,81.98 547.00,82.06 546.50,82.12 546.00,82.16 545.50,82.19 545.00,82.20 544.50,82.19 544.00,82.17 543.50,82.13 543.00,82.07 542.50,81.99 542.00,81.90 541.50,81.80 541.00,81.68 540.50,81.55 540.00,81.41 539.50,81.26 539.00,81.11 538.50,80.95 538.00,80.78 537.50,80.61 537.00,80.44 536.50,80.27 536.00,80.11 535.50,79.94 535.00,79.79 534.50,79.64 534.00,79.51 533.50,79.38 533.00,79.27 532.50,79.17 532.00,79.08 531.50,79.01 531.00,78.96 530.50,78.92 530.00,78.90 529.50,78.90 529.00,78.92 528.50,78.95 528.00,79.00 527.50,79.07 527.00,79.15 526.50,79.25 526.00,79.36 525.50,79.48 525.00,79.61 524.50,79.76 524.00,79.91 523.50,80.07 523.00,80.24 522.50,80.41 522.00,80.58 521.50,80.74 521.00,80.91 520.50,81.08 520.00,81.23 519.50,81.38 519.00,81.53 518.50,81.66 518.00,81.78 517.50,81.88 517.00,81.98 516.50,82.06 516.00,82.12 515.50,82.16 515.00,82.19 514.50,82.20 514.00,82.19 513.50,82.17 513.00,82.13 512.50,82.07 512.00,81.99 511.50,81.90 511.00,81.80 510.50,81.68 510.00,81.55 509.50,81.41 509.00,81.26 508.50,81.11 508.00,80.95 507.50,80.78 507.00,80.61 506.50,80.44 506.00,80.27 505.50,80.11 505.00,79.94 504.50,79.79 504.00,79.64 503.50,79.51 503.00,79.38 502.50,79.27 502.00,79.17 501.50,79.08 501.00,79.01 500.50,78.96 500.00,78.92 499.50,78.90 499.00,78.90 498.50,78.92 498.00,78.95 497.50,79.00 497.00,79.07 496.50,79.15 496.00,79.25 495.50,79.36 495.00,79.48 494.50,79.61 494.00,79.76 493.50,79.91" fill="#fff"/>
<polyline points="493.50,77.71 494.00,77.56 494.50,77.41 495.00,77.28 495.50,77.16 496.00,77.05 496.50,76.95 497.00,76.87 497.50,76.80 498.00,76.75 498.50,76.72 499.00,76.70 499.50,76.70 500.00,76.72 500.50,76.76 501.00,76.81 501.50,76.88 502.00,76.97 502.50,77.07 503.00,77.18 503.50,77.31 504.00,77.44 504.50,77.59 505.00,77.74 505.50,77.91 506.00,78.07 506.50,78.24 507.00,78.41 507.50,78.58 508.00,78.75 508.50,78.91 509.00,79.06 509.50,79.21 510.00,79.35 510.50,79.48 511.00,79.60 511.50,79.70 512.00,79.79 512.50,79.87 513.00,79.93 513.50,79.97 514.00,79.99 514.50,80.00 515.00,79.99 515.50,79.96 516.00,79.92 516.50,79.86 517.00,79.78 517.50,79.68 518.00,79.58 518.50,79.46 519.00,79.33 519.50,79.18 520.00,79.03 520.50,78.88 521.00,78.71 521.50,78.54 522.00,78.38 522.50,78.21 523.00,78.04 523.50,77.87 524.00,77.71 524.50,77.56 525.00,77.41 525.50,77.28 526.00,77.16 526.50,77.05 527.00,76.95 527.50,76.87 528.00,76.80 528.50,76.75 529.00,76.72 529.50,76.70 530.00,76.70 530.50,76.72 531.00,76.76 531.50,76.81 532.00,76.88 532.50,76.97 533.00,77.07 533.50,77.18 534.00,77.31 534.50,77.44 535.00,77.59 535.50,77.74 536.00,77.91 536.50,78.07 537.00,78.24 537.50,78.41 538.00,78.58 538.50,78.75 539.00,78.91 539.50,79.06 540.00,79.21 540.50,79.35 541.00,79.48 541.50,79.60 542.00,79.70 542.50,79.79 543.00,79.87 543.50,79.93 544.00,79.97 544.50,79.99 545.00,80.00 545.50,79.99 546.00,79.96 546.50,79.92 547.00,79.86 547.50,79.78 548.00,79.68 548.50,79.58 549.00,79.46 549.50,79.33 550.00,79.18 550.50,79.03 551.00,78.88 551.50,78.71 552.00,78.54 552.50,78.38 553.00,78.21 553.50,78.04 554.00,77.87 554.50,77.71 555.00,77.56 555.50,77.41 556.00,77.28 556.50,77.16 557.00,77.05 557.50,76.95 558.00,76.87 558.50,76.80 559.00,76.75 559.50,76.72 560.00,76.70 560.50,76.70 561.00,76.72 561.50,76.76 562.00,76.81 562.50,76.88 563.00,76.97 563.50,77.07 564.00,77.18 564.50,77.31 565.00,77.44 565.50,77.59 566.00,77.74 566.50,77.91 567.00,78.07 567.50,78.24 568.00,78.41 568.50,78.58 569.00,78.75 569.50,78.91 570.00,79.06 570.50,79.21 571.00,79.35 571.50,79.48 572.00,79.60 572.50,79.70 573.00,79.79 573.50,79.87 574.00,79.93 574.50,79.97 575.00,79.99 575.50,80.00 576.00,79.99 576.50,79.96 577.00,79.92 577.50,79.86 578.00,79.78 578.50,79.68 579.00,79.58 579.50,79.46 580.00,79.33 580.50,79.18 581.00,79.03 581.50,78.88 582.00,78.71 582.50,78.54 583.00,78.38 583.50,78.21 584.00,78.04 584.50,77.87 585.00,77.71 585.50,77.56 586.00,77.41 586.50,77.28 587.00,77.16 587.50,77.05 588.00,76.95 588.50,76.87 589.00,76.80 589.50,76.75 590.00,76.72 590.50,76.70 591.00,76.70 591.50,76.72 592.00,76.76 592.50,76.81 593.00,76.88 593.50,76.97 594.00,77.07 594.50,77.18 595.00,77.31 595.50,77.44 596.00,77.59 596.50,77.74 597.00,77.91 597.50,78.07 598.00,78.24 598.50,78.41 599.00,78.58 599.50,78.75 600.00,78.91 600.50,79.06 601.00,79.21 601.50,79.35 602.00,79.48 602.50,79.60 603.00,79.70 603.50,79.79 604.00,79.87 604.50,79.93 605.00,79.97 605.50,79.99 606.00,80.00 606.50,79.99 607.00,79.96 607.50,79.92 608.00,79.86 608.50,79.78 609.00,79.68 609.50,79.58 610.00,79.46 610.50,79.33 611.00,79.18 611.50,79.03 612.00,78.88 612.50,78.71 613.00,78.54 613.50,78.38 614.00,78.21 614.50,78.04 615.00,77.87 615.50,77.71 616.00,77.56 616.50,77.41 617.00,77.28 617.50,77.16 618.00,77.05 618.50,76.95 619.00,76.87 619.50,76.80 620.00,76.75 620.50,76.72 621.00,76.70 621.50,76.70 622.00,76.72 622.50,76.76 623.00,76.81 623.50,76.88 624.00,76.97 624.50,77.07 625.00,77.18 625.50,77.31 626.00,77.44 626.50,77.59 627.00,77.74 627.50,77.91 628.00,78.07 628.50,78.24 629.00,78.41 629.50,78.58 630.00,78.75 630.50,78.91 631.00,79.06 631.50,79.21 632.00,79.35 632.50,79.48 633.00,79.60 633.50,79.70 634.00,79.79 634.50,79.87 635.00,79.93 635.50,79.97 636.00,79.99 636.50,80.00 637.00,79.99 637.50,79.96 638.00,79.92 638.50,79.86 639.00,79.78 639.50,79.68 640.00,79.58 640.50,79.46 641.00,79.33 641.50,79.18 642.00,79.03 642.50,78.88 643.00,78.71 643.50,78.54 644.00,78.38 644.50,78.21 645.00,78.04 645.50,77.87 646.00,77.71 646.50,77.56 647.00,77.41 647.50,77.28 648.00,77.16 648.50,77.05 649.00,76.95 649.50,76.87 650.00,76.80 650.50,76.75 651.00,76.72 651.50,76.70 652.00,76.70 652.50,76.72 653.00,76.76 653.50,76.81 654.00,76.88 654.50,76.97 655.00,77.07 655.50,77.18 656.00,77.31 656.50,77.44 657.00,77.59 657.50,77.74 658.00,77.91 658.50,78.07 659.00,78.24 659.50,78.41 660.00,78.58 660.50,78.75 661.00,78.91 661.50,79.06 662.00,79.21 662.50,79.35 663.00,79.48 663.50,79.60 664.00,79.70 664.50,79.79 665.00,79.87 665.50,79.93 666.00,79.97 666.50,79.99 667.00,80.00 667.50,79.99 668.00,79.96 668.50,79.92 669.00,79.86 669.50,79.78 670.00,79.68 670.50,79.58 671.00,79.46 671.50,79.33 672.00,79.18 672.50,79.03 673.00,78.88 673.50,78.71 674.00,78.54 674.50,78.38 675.00,78.21 675.50,78.04" fill="none" stroke="#8a8a8a" stroke-width="1"/>
<polyline points="493.50,79.91 494.00,79.76 494.50,79.61 495.00,79.48 495.50,79.36 496.00,79.25 496.50,79.15 497.00,79.07 497.50,79.00 498.00,78.95 498.50,78.92 499.00,78.90 499.50,78.90 500.00,78.92 500.50,78.96 501.00,79.01 501.50,79.08 502.00,79.17 502.50,79.27 503.00,79.38 503.50,79.51 504.00,79.64 504.50,79.79 505.00,79.94 505.50,80.11 506.00,80.27 506.50,80.44 507.00,80.61 507.50,80.78 508.00,80.95 508.50,81.11 509.00,81.26 509.50,81.41 510.00,81.55 510.50,81.68 511.00,81.80 511.50,81.90 512.00,81.99 512.50,82.07 513.00,82.13 513.50,82.17 514.00,82.19 514.50,82.20 515.00,82.19 515.50,82.16 516.00,82.12 516.50,82.06 517.00,81.98 517.50,81.88 518.00,81.78 518.50,81.66 519.00,81.53 519.50,81.38 520.00,81.23 520.50,81.08 521.00,80.91 521.50,80.74 522.00,80.58 522.50,80.41 523.00,80.24 523.50,80.07 524.00,79.91 524.50,79.76 525.00,79.61 525.50,79.48 526.00,79.36 526.50,79.25 527.00,79.15 527.50,79.07 528.00,79.00 528.50,78.95 529.00,78.92 529.50,78.90 530.00,78.90 530.50,78.92 531.00,78.96 531.50,79.01 532.00,79.08 532.50,79.17 533.00,79.27 533.50,79.38 534.00,79.51 534.50,79.64 535.00,79.79 535.50,79.94 536.00,80.11 536.50,80.27 537.00,80.44 537.50,80.61 538.00,80.78 538.50,80.95 539.00,81.11 539.50,81.26 540.00,81.41 540.50,81.55 541.00,81.68 541.50,81.80 542.00,81.90 542.50,81.99 543.00,82.07 543.50,82.13 544.00,82.17 544.50,82.19 545.00,82.20 545.50,82.19 546.00,82.16 546.50,82.12 547.00,82.06 547.50,81.98 548.00,81.88 548.50,81.78 549.00,81.66 549.50,81.53 550.00,81.38 550.50,81.23 551.00,81.08 551.50,80.91 552.00,80.74 552.50,80.58 553.00,80.41 553.50,80.24 554.00,80.07 554.50,79.91 555.00,79.76 555.50,79.61 556.00,79.48 556.50,79.36 557.00,79.25 557.50,79.15 558.00,79.07 558.50,79.00 559.00,78.95 559.50,78.92 560.00,78.90 560.50,78.90 561.00,78.92 561.50,78.96 562.00,79.01 562.50,79.08 563.00,79.17 563.50,79.27 564.00,79.38 564.50,79.51 565.00,79.64 565.50,79.79 566.00,79.94 566.50,80.11 567.00,80.27 567.50,80.44 568.00,80.61 568.50,80.78 569.00,80.95 569.50,81.11 570.00,81.26 570.50,81.41 571.00,81.55 571.50,81.68 572.00,81.80 572.50,81.90 573.00,81.99 573.50,82.07 574.00,82.13 574.50,82.17 575.00,82.19 575.50,82.20 576.00,82.19 576.50,82.16 577.00,82.12 577.50,82.06 578.00,81.98 578.50,81.88 579.00,81.78 579.50,81.66 580.00,81.53 580.50,81.38 581.00,81.23 581.50,81.08 582.00,80.91 582.50,80.74 583.00,80.58 583.50,80.41 584.00,80.24 584.50,80.07 585.00,79.91 585.50,79.76 586.00,79.61 586.50,79.48 587.00,79.36 587.50,79.25 588.00,79.15 588.50,79.07 589.00,79.00 589.50,78.95 590.00,78.92 590.50,78.90 591.00,78.90 591.50,78.92 592.00,78.96 592.50,79.01 593.00,79.08 593.50,79.17 594.00,79.27 594.50,79.38 595.00,79.51 595.50,79.64 596.00,79.79 596.50,79.94 597.00,80.11 597.50,80.27 598.00,80.44 598.50,80.61 599.00,80.78 599.50,80.95 600.00,81.11 600.50,81.26 601.00,81.41 601.50,81.55 602.00,81.68 602.50,81.80 603.00,81.90 603.50,81.99 604.00,82.07 604.50,82.13 605.00,82.17 605.50,82.19 606.00,82.20 606.50,82.19 607.00,82.16 607.50,82.12 608.00,82.06 608.50,81.98 609.00,81.88 609.50,81.78 610.00,81.66 610.50,81.53 611.00,81.38 611.50,81.23 612.00,81.08 612.50,80.91 613.00,80.74 613.50,80.58 614.00,80.41 614.50,80.24 615.00,80.07 615.50,79.91 616.00,79.76 616.50,79.61 617.00,79.48 617.50,79.36 618.00,79.25 618.50,79.15 619.00,79.07 619.50,79.00 620.00,78.95 620.50,78.92 621.00,78.90 621.50,78.90 622.00,78.92 622.50,78.96 623.00,79.01 623.50,79.08 624.00,79.17 624.50,79.27 625.00,79.38 625.50,79.51 626.00,79.64 626.50,79.79 627.00,79.94 627.50,80.11 628.00,80.27 628.50,80.44 629.00,80.61 629.50,80.78 630.00,80.95 630.50,81.11 631.00,81.26 631.50,81.41 632.00,81.55 632.50,81.68 633.00,81.80 633.50,81.90 634.00,81.99 634.50,82.07 635.00,82.13 635.50,82.17 636.00,82.19 636.50,82.20 637.00,82.19 637.50,82.16 638.00,82.12 638.50,82.06 639.00,81.98 639.50,81.88 640.00,81.78 640.50,81.66 641.00,81.53 641.50,81.38 642.00,81.23 642.50,81.08 643.00,80.91 643.50,80.74 644.00,80.58 644.50,80.41 645.00,80.24 645.50,80.07 646.00,79.91 646.50,79.76 647.00,79.61 647.50,79.48 648.00,79.36 648.50,79.25 649.00,79.15 649.50,79.07 650.00,79.00 650.50,78.95 651.00,78.92 651.50,78.90 652.00,78.90 652.50,78.92 653.00,78.96 653.50,79.01 654.00,79.08 654.50,79.17 655.00,79.27 655.50,79.38 656.00,79.51 656.50,79.64 657.00,79.79 657.50,79.94 658.00,80.11 658.50,80.27 659.00,80.44 659.50,80.61 660.00,80.78 660.50,80.95 661.00,81.11 661.50,81.26 662.00,81.41 662.50,81.55 663.00,81.68 663.50,81.80 664.00,81.90 664.50,81.99 665.00,82.07 665.50,82.13 666.00,82.17 666.50,82.19 667.00,82.20 667.50,82.19 668.00,82.16 668.50,82.12 669.00,82.06 669.50,81.98 670.00,81.88 670.50,81.78 671.00,81.66 671.50,81.53 672.00,81.38 672.50,81.23 673.00,81.08 673.50,80.91 674.00,80.74 674.50,80.58 675.00,80.41 675.50,80.24" fill="none" stroke="#8a8a8a" stroke-width="1"/>
</svg></body></html>
